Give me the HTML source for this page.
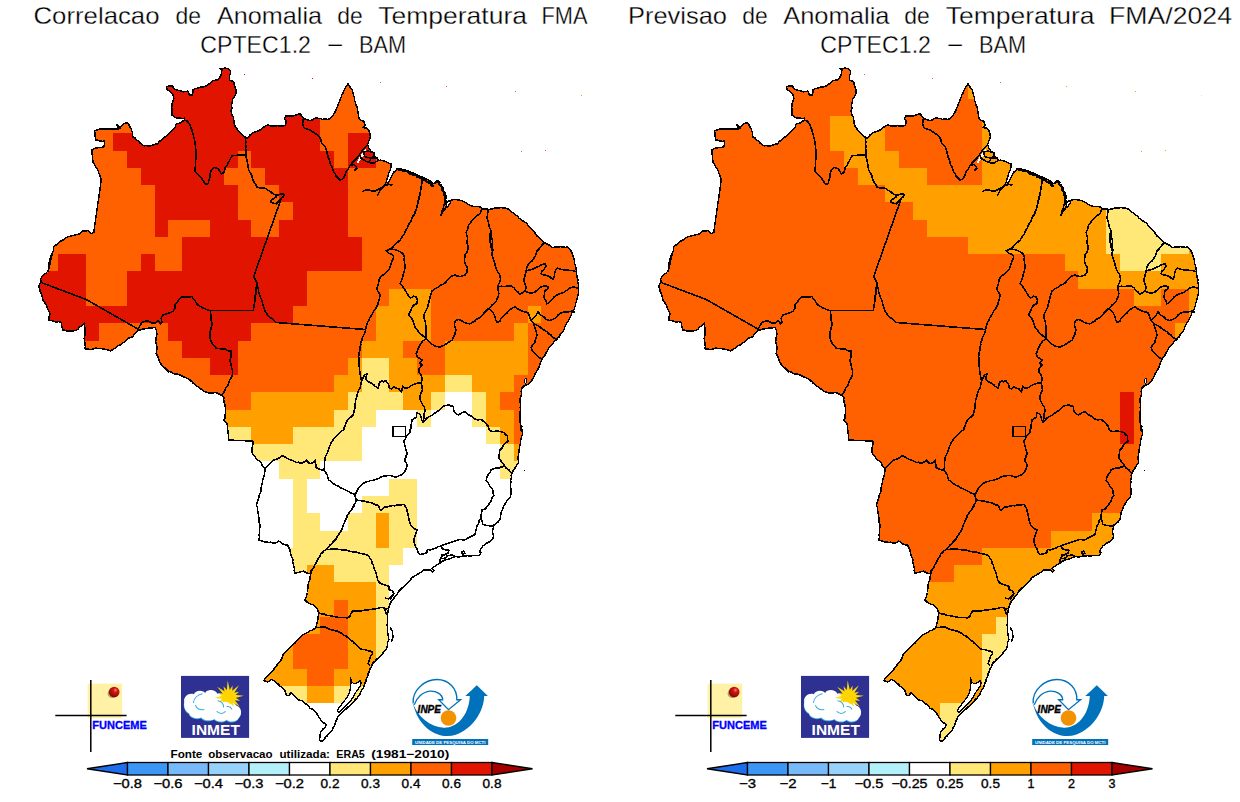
<!DOCTYPE html>
<html><head><meta charset="utf-8"><title>Anomalia de Temperatura FMA</title>
<style>
html,body{margin:0;padding:0;background:#fff;}
body{width:1240px;height:802px;overflow:hidden;position:relative;font-family:"Liberation Sans",sans-serif;}
svg{position:absolute;left:0;top:0;}
text{font-family:"Liberation Sans",sans-serif;}
</style></head><body>
<svg width="1240" height="802" viewBox="0 0 1240 802">
<defs><clipPath id="bz"><path d="M38.8 286.2 39.6 284.1 41.2 282.5 40.5 278.8 42.1 276.8 43.8 275 45.4 273.4 47.5 272.5 48.5 270 49.5 267.5 49.8 265 49.9 262.5 50 260 50.4 257.4 51.3 254.9 52.5 252.5 49.2 267.5 48.8 263.8 49.6 261.6 50.3 259.4 51.5 257.3 51.9 255 52.4 253 53.2 251 53.6 249 53.8 246.9 55.4 245.3 57.4 244.4 59 242.8 60.6 241.2 62.4 240.3 64.2 239.3 65.8 238 67.5 236.9 80 233.8 82.5 230.8 85.3 231 88 230.5 89.5 232.2 91.2 233.8 93.8 232.5 95.5 220 97.5 206.2 99.5 192.5 101.2 179.5 100.5 177.3 99.7 175.1 98.8 173 98.2 170.8 96.9 168.7 95.6 166.6 94.5 164.5 93 162.5 91.8 150 93.9 148.8 96.2 148 98.7 147.6 101.3 147.4 103.8 147 104.5 144.2 104.5 141.2 102.2 141.3 99.9 141.1 97.8 140.1 95.5 140 95.5 137.6 94.8 135.3 95 132.8 94.5 130.5 97.4 130.1 100 129 115 129 118.8 128.8 117.4 126.8 117 124.5 118.5 126.2 120 128 121.6 125.6 123.8 123.8 127.5 122.5 128.8 124.5 129.8 126.8 131.2 128.8 131.4 130.9 132.6 132.8 132.2 135 133 137 135.2 138.1 136.7 140.1 138.8 141.2 140.1 143.1 142.1 144.3 143.8 145.8 146.2 145.7 148.8 145.9 151.2 145.8 153.3 144.9 155.4 144.3 157.5 143.8 159 141.9 160.8 140.4 162.5 138.8 164.9 137 167.5 135.5 169.4 133.4 171.2 131.2 173 129.2 175 127.5 176.2 123.8 180 123 182.2 121.5 184.5 120 184.4 118.1 182.2 118.6 180 118.1 177.5 118.2 175 117.5 171.9 115 172 112.5 171.9 110 171.7 107.9 172 105.8 171.9 103.8 172.8 101.3 173.8 98.8 173.4 96.2 172.5 93.8 171 92.3 169.4 91 167.5 90 166.2 86.9 169.4 86 172.5 86.2 174.4 89.4 176.6 90 178.8 90.6 181 90.9 183.1 91.9 185.6 91.4 188.1 91.2 189.4 95 192.2 95 192.9 92.5 192.8 90 195 88.8 197.5 88.1 199.5 87.4 201.6 86.9 203.8 86.9 205.8 86.2 207.6 85 209.4 83.8 211.3 82.5 212.5 80.6 215 80.2 217.5 80 219.1 78.6 220.2 76.8 221.2 75 221.4 72.8 221.9 70.6 220 68.8 222.3 68.9 224.4 68.1 228.1 68.5 230.6 71.2 230.3 73.8 229.4 76.2 229.4 80 231.8 80.9 233.8 82.5 234.3 84.7 235 86.9 235.7 89.1 236.2 91.2 236 93.5 235 95.6 233.9 97.3 232.5 98.8 232.5 101.3 231.9 103.8 231.4 105.8 232 108 231.2 110 231.3 112.5 231.9 115 233.3 117.3 233.8 120 233.8 122.1 234.4 124.2 235 126.2 236.5 127.7 237.4 129.7 238.8 131.2 240.7 133.1 242.5 135 245.6 137.5 247.5 138.1 250 135 253.1 132.5 255.3 131.9 257.5 131.2 260.2 129.9 262.5 128.1 264.9 126.4 267.5 125 270 125.7 272.5 126.2 275 126 277.5 125.6 280 126.1 282.5 126.2 285.6 125 286.2 121.2 284.4 118.8 286.2 115.6 288.7 116.1 291.2 116.2 293.8 115.9 296.2 115 298.4 114.2 300.6 113.8 301.4 115.7 302.5 117.5 304.2 118.7 306.1 119.4 308 120.1 310 120.5 312.2 119.9 314 118.5 316.2 118 318.4 118.3 320.5 118.6 322.5 119.5 325 118.9 327.5 119.4 330 118.8 331.4 117.2 332.8 115.6 333.8 113.8 335 112 335.9 110.1 336.7 108.2 337.5 106.2 338.4 104 339.5 101.9 340 99.6 341.2 97.5 341.8 95.1 343 93.1 343.9 90.9 345 88.8 346.3 86.1 348 83.8 349.4 85.9 350.7 88.1 352.5 90 352.7 92 353.3 94 353.8 96 354.6 97.9 354.5 100 355.2 102 355.6 104 356.5 105.9 357.2 107.9 357.5 110 357.9 112.2 358.3 114.4 358.7 116.6 359.4 118.8 361.2 120.6 363.8 121.2 365 125 363.1 127.5 366.2 128.1 368.8 130 370 133.8 370.3 135.9 370.2 138.1 368.8 141.2 367.5 145 368.6 146.8 369 148.9 370.6 150.5 371.2 152.5 373.8 152.5 374.4 156.2 377.5 158.1 378.1 160.6 380.3 160.2 382.5 160.6 384.8 161.1 386.9 162.2 389 163.2 391.2 163.5 390.8 165.5 390.9 167.5 389.8 171.2 388.7 173.1 388.4 175.2 387 179 386.2 182.2 388 183.5 389.9 180 391 177.5 392.2 175 394.1 171.9 396.9 169.4 400 168.8 402.5 169.3 405 170 407.5 170.9 410 171.9 412.5 172.7 415 173.8 417.5 175 420 176.2 422.5 177.1 425 178.1 427.4 179.6 430 180.6 431.6 182.5 433.8 183.8 435.5 182.3 437.5 181.2 438.7 182.9 440.2 184.4 441.2 186.2 442.1 188.8 443 191.2 443.8 193.8 444.9 195.5 445.6 197.5 445.4 200 446.9 201.9 448.7 200.9 450.6 200.4 452.8 199.7 455 199.4 457.5 199.8 460 200.2 462.7 201 465 202.5 467 203.2 468.6 204.6 470.4 205.7 472.5 206.2 475 206.8 477.5 206.3 480 207 482.5 208.8 484.6 208.9 486.7 208.8 488.8 209.4 490.9 209.1 493 208.8 495 208.1 497.1 208.2 499.2 208 501.2 207.5 503.3 208.1 505.5 208.1 507.5 208.8 509.3 209.8 510.8 211.3 512.5 212.5 514.2 213.7 515.9 215 517.5 216.2 518.9 218.1 520.8 219.2 522.5 220.6 524.1 221.9 526.1 222.8 527.5 224.4 529.1 226.8 531.2 228.8 533.5 230.6 535 233.1 536.5 235.6 538.8 237.5 540.4 239.3 542.5 240.6 545 243.1 547.6 244.2 550 245.6 552.5 247.5 555 247 557.5 247.2 560 246.7 562.5 246.9 565 247.3 567.5 247.2 570 249.4 571.9 252.5 573.1 256.2 574.1 258.7 574.4 261.2 574.7 263.8 575.6 266.2 576 268.8 576.5 271.2 576.4 273.4 576.8 275.4 577.2 277.5 578 279.5 577.5 281.7 578.1 283.8 578.8 285.8 578.5 287.9 578.8 290 578.5 292.5 578.1 295 577.5 297.5 576.9 299.5 576.5 301.6 575.5 303.5 575.4 305.6 574.5 307.5 574.1 309.5 572.7 311.2 571.7 313 571.2 315 570.3 316.8 569.5 318.6 568.7 320.5 567.6 322.2 566.2 323.8 565.3 325.8 564.6 327.9 563.8 330 562.6 331.8 561.2 333.3 560 335 559.1 336.9 557.5 338.4 556.2 340 554.4 341.3 553.1 343.1 551.9 345 550 346.2 548.1 349.4 546.2 352.5 545.4 354.5 544 356.2 542.7 358 541.9 360 540.5 362 540 364.4 539.1 366.6 538.1 368.8 536.9 370.5 536.2 372.5 534.9 374.2 534.4 376.2 532.5 379.4 530.6 381.9 528.1 384.4 526 385 523.8 386.2 521.9 388.1 521.2 391.2 521.5 395 520.2 398.1 520 401.2 520.6 405 520.2 407.5 520.4 410 519.9 412.5 519.8 415 520 417.5 519.8 419.6 519.9 421.7 520.4 423.8 520.3 425.8 520.4 427.9 520.6 430 521.8 426.2 521.6 428.4 521.9 430.5 522.5 432.5 522.3 434.6 521.4 436.6 521.2 438.8 520.4 440.7 520.6 443 520 445 519.6 447.5 518.9 450 518.8 452.5 518.7 454.6 518 456.6 518.1 458.8 518.5 462.5 516.9 465 515 468.1 513.1 470.6 512.3 472.9 511.2 475 511.4 477.6 510.6 480 510.9 482.5 510.4 485 510.7 487.5 511 490 511.2 493.8 510 497.5 507.5 500 505.6 503.1 503.8 506.2 502.5 509.4 501.2 512.5 500.6 516.2 499.8 520 497.5 522.5 495.7 523.9 493.8 525 493.7 527.6 492.7 530 492.5 532.5 493.5 535 493.1 538.8 490 541.2 488.3 542.6 486.2 543.1 484.9 544.7 483.1 545.6 482.1 547.4 480.6 548.8 479.4 551.9 481.2 552.5 479.4 555.6 476.2 555.6 472.5 555.6 470 556.1 467.5 555.6 465 556 462.5 556.2 458.8 556.9 455 556.5 451.9 557.8 450 558.6 448.1 559.4 445 560 442.5 561.2 440 563.1 436.9 565 433.8 566.9 431.9 568.8 433.8 570.6 432.5 571.9 430 570 426.9 569.8 423.8 570.2 420.6 572.5 417.5 574.4 414.4 576.2 412.6 577.2 411.2 578.8 409.4 581.2 406.9 583.8 404.4 586.2 402.7 587.4 401.2 588.8 398.8 591.2 396.9 594.4 394.4 597.5 391.9 600.6 390 603.8 388.8 607.5 388.1 611.2 387.5 615 387.5 618 387.7 620.4 387.6 622.8 387 625.1 387.5 627.5 387.4 630 387.7 632.5 388 635 388.7 637.4 388.8 640 387.7 642.4 387.5 645 387 647.7 385.6 650 383.9 651.7 382.5 653.8 380.9 655.9 378.8 657.5 376.7 659.2 375 661.2 373.1 662.8 371.9 665 371.3 667.1 370 668.8 369.3 671.4 368.1 673.8 367.6 676.4 366.2 678.8 366.1 681.1 365 683.1 363.8 686.9 362.5 689.1 361.2 691.2 360.3 693.6 358.8 695.6 357.1 698 355 700 353.8 702.2 351.9 703.8 350.2 705.5 348.1 706.9 346.4 708.7 344.4 710 342.7 711.4 341.2 713.1 338.8 715.6 337.6 717.4 336.9 719.4 335.7 721.5 335 723.8 334.5 725.8 333.1 727.5 332.3 729.9 330.6 731.9 328.9 733.6 327.5 735.6 325.7 737 324.4 738.8 322.5 740.8 321 741.5 319.8 740.8 319.6 738.5 320 736.2 320.2 734 320.6 731.9 322.1 730.5 323.1 728.8 324.9 727.4 326.2 725.6 325.6 723.8 323.4 722.6 321.2 721.2 320.4 719.1 318.8 717.5 318 715.5 316.9 713.8 315.6 711.9 313.8 710.6 312.1 709.1 310 708.1 307.5 705 305.4 703.7 303.8 701.9 301.4 700.5 298.8 700 296.5 698.5 295 696.2 293.1 694.4 291.2 692.5 288.8 695.6 286.2 695 285.7 692.4 284.4 690 282.4 687.9 280 686.2 278.5 684.4 276.7 682.8 275 681.2 273.1 680.3 271.2 679.4 269.6 680.9 267.5 681.9 263.8 680.6 265.6 677.5 267 676.1 268.8 675 270.6 673.3 271.9 671.2 273.7 669.6 275 667.5 277.5 664.4 278.9 662.9 280 661.2 281.6 659.3 282.5 656.9 283.3 654.5 285 652.5 287.5 650 290 647.5 291.7 646 293.1 644.4 294.9 643.1 296.2 641.2 297.5 640 299.1 638.3 300.7 636.5 302.5 635 304.9 633.6 307.5 632.5 309.8 630.9 312.5 630 314.4 628.8 316.2 627.5 316.3 625.4 316.8 623.3 317.5 621.2 318.2 618.8 318.1 616.2 318.8 613.8 318.1 611.3 317.5 608.8 315.7 606.8 313.8 605 311.6 604.4 309.5 603.5 307.5 602.5 305 600 306 597.6 306.8 595.1 307.5 592.5 307.7 590 308 587.5 308 585 308.7 582.5 309.7 580.1 310 577.5 310.7 575 311 572.5 311.2 570 311.2 572.5 308.8 573.8 306.2 572.7 303.8 571.2 301.1 571.4 298.8 572.5 295 573 294.2 570.8 294.5 568.4 293.8 566.2 293.4 564.1 292.7 561.9 292.9 559.6 292 557.5 291.1 555.1 290.4 552.6 290 550 288.7 547.5 287.5 545 284.9 544.8 282.5 543.8 280.8 542.3 278.8 541.2 277.1 542.5 275 543 272.9 543.2 270.9 542.2 268.8 542.5 266.8 541.7 264.5 542.1 262.5 541.2 258.8 540 259.5 537.5 259 535 259.5 532.5 259.2 530 259.8 527.5 260 525 259.2 522.6 259.2 520 258.8 517.5 258.6 515 258 512.5 257.5 510 257.3 507.4 256.2 505 257.2 502.5 257.9 500 258.8 497.5 259.3 494.9 260.5 492.5 261.2 490 261.2 487.4 261.7 484.9 262.5 482.5 262.7 479.9 263.4 477.4 264.5 475 264.5 472.9 265 470.8 265 468.8 262.5 466.2 261.6 463.6 260 461.2 258 460.2 256.2 458.8 255.1 457 253.9 455.3 252.5 453.8 252 451.7 252.1 449.6 252 447.5 252.6 445.5 253.1 443.4 253 441.2 240 440.5 228.8 440 228.7 437.5 228.4 435 228 432.5 227.7 430 227.6 427.5 227.5 425 226.5 423.2 225.1 421.6 223.8 420 225 418 225.1 415.2 225.5 412.5 225.5 410 225.4 407.5 225 405 224.2 402.6 223.7 400.1 223.8 397.5 222.1 395.7 220 394.5 217.6 393.3 215 392.5 212.9 392.9 210.8 392.9 208.8 393 206.2 392.2 203.8 391.2 202.2 389.9 200.5 388.7 198.8 387.5 197.1 386.2 195.5 384.9 193.8 383.8 191.9 381.8 190 380 187.6 378.5 185 377.5 182.5 376.3 180 375 178 374.4 175.9 373.9 173.8 373.8 171.5 372.1 168.8 371.2 167.1 369.2 165 367.5 166.7 369.8 168.8 371.9 167.2 370 165 368.8 163.3 367 161.9 365 160.3 363.3 159.4 361.2 158.1 357.5 157.4 355.5 156.2 353.8 156.7 351.3 156.9 348.8 156.8 346.2 156.2 343.8 155.7 341.3 156 338.8 156.4 336.2 156.9 333.8 156.2 330 155 327.5 152.5 327.8 150 328.1 147.9 328.3 145.8 328.7 143.8 328.8 141.3 329.7 138.8 330 136.9 331.9 135 333.8 133.7 335.3 132.5 336.9 128.8 338.1 126.7 339.9 125 341.9 122.3 343.2 120 345 117.7 345.9 115.9 347.6 113.8 348.8 112.1 349.9 110.5 351.2 108.8 350 106.7 349.6 104.6 349.3 102.5 348.8 100.4 348.4 98.3 348.7 96.2 348 94.2 348.5 92.2 349.3 90 349.5 87.5 348.9 85 348.8 85.3 346.2 85 343.7 84.5 341.2 84.2 339 84.5 336.9 85.3 334.7 85 332.5 85.1 330.5 85.2 328.5 84.7 326.5 84.1 324.5 84.5 322.5 82.9 324.4 81.2 326.2 79.3 327.3 78 329.2 76.2 330.5 74.1 330.8 71.9 331.3 69.7 330.8 67.5 331.2 65.1 330.2 62.5 330 62.3 327.5 61.4 325.1 61.2 322.5 58.8 321.7 56.2 322.1 53.8 321.2 51.3 320.5 48.8 320 48.8 317.8 49.6 315.8 50 313.8 48.8 311.2 47.5 308.8 46.9 306.1 45.5 303.8 44.3 301.9 43 300 42 296.2 41.4 293.6 40 291.2 39.7 288.7Z"/></clipPath></defs>
<rect width="1240" height="802" fill="#fff"/>
<g transform="translate(0,0)" shape-rendering="crispEdges">
<g clip-path="url(#bz)">
<rect x="30" y="64" width="553" height="17" fill="#e11400"/>
<rect x="30" y="81" width="290" height="35" fill="#e11400"/>
<rect x="320" y="81" width="263" height="52" fill="#ff6000"/>
<rect x="141" y="116" width="179" height="17" fill="#e11400"/>
<rect x="30" y="116" width="111" height="17" fill="#ff6000"/>
<rect x="30" y="133" width="83" height="18" fill="#ff6000"/>
<rect x="113" y="133" width="207" height="18" fill="#e11400"/>
<rect x="320" y="133" width="28" height="18" fill="#ff6000"/>
<rect x="376" y="133" width="207" height="35" fill="#ff6000"/>
<rect x="348" y="133" width="28" height="35" fill="#e11400"/>
<rect x="334" y="151" width="14" height="17" fill="#ff6000"/>
<rect x="251" y="151" width="83" height="17" fill="#e11400"/>
<rect x="127" y="151" width="111" height="17" fill="#e11400"/>
<rect x="30" y="151" width="97" height="17" fill="#ff6000"/>
<rect x="238" y="151" width="13" height="17" fill="#ff6000"/>
<rect x="224" y="168" width="41" height="17" fill="#ff6000"/>
<rect x="30" y="168" width="111" height="17" fill="#ff6000"/>
<rect x="265" y="168" width="83" height="17" fill="#e11400"/>
<rect x="141" y="168" width="83" height="17" fill="#e11400"/>
<rect x="238" y="185" width="41" height="17" fill="#ff6000"/>
<rect x="279" y="185" width="69" height="17" fill="#e11400"/>
<rect x="155" y="185" width="83" height="35" fill="#e11400"/>
<rect x="293" y="202" width="55" height="18" fill="#e11400"/>
<rect x="238" y="202" width="55" height="18" fill="#ff6000"/>
<rect x="348" y="168" width="235" height="69" fill="#ff6000"/>
<rect x="30" y="185" width="125" height="52" fill="#ff6000"/>
<rect x="155" y="220" width="13" height="17" fill="#e11400"/>
<rect x="168" y="220" width="42" height="17" fill="#ff6000"/>
<rect x="251" y="220" width="28" height="17" fill="#ff6000"/>
<rect x="210" y="220" width="41" height="17" fill="#e11400"/>
<rect x="279" y="220" width="69" height="17" fill="#e11400"/>
<rect x="30" y="237" width="152" height="17" fill="#ff6000"/>
<rect x="362" y="237" width="221" height="34" fill="#ff6000"/>
<rect x="182" y="237" width="180" height="34" fill="#e11400"/>
<rect x="58" y="254" width="28" height="17" fill="#e11400"/>
<rect x="86" y="254" width="55" height="17" fill="#ff6000"/>
<rect x="155" y="254" width="27" height="17" fill="#ff6000"/>
<rect x="30" y="254" width="28" height="17" fill="#ff6000"/>
<rect x="141" y="254" width="14" height="17" fill="#e11400"/>
<rect x="307" y="271" width="276" height="18" fill="#ff6000"/>
<rect x="30" y="271" width="56" height="35" fill="#e11400"/>
<rect x="127" y="271" width="180" height="35" fill="#e11400"/>
<rect x="86" y="271" width="41" height="35" fill="#ff6000"/>
<rect x="307" y="289" width="82" height="17" fill="#ff6000"/>
<rect x="431" y="289" width="152" height="17" fill="#ff6000"/>
<rect x="389" y="289" width="42" height="17" fill="#ffa000"/>
<rect x="30" y="306" width="263" height="17" fill="#e11400"/>
<rect x="528" y="306" width="13" height="17" fill="#ffa000"/>
<rect x="541" y="306" width="42" height="17" fill="#ff6000"/>
<rect x="431" y="306" width="97" height="17" fill="#ff6000"/>
<rect x="293" y="306" width="83" height="17" fill="#ff6000"/>
<rect x="376" y="306" width="55" height="35" fill="#ffa000"/>
<rect x="251" y="323" width="125" height="18" fill="#ff6000"/>
<rect x="431" y="323" width="83" height="18" fill="#ff6000"/>
<rect x="99" y="323" width="69" height="18" fill="#ff6000"/>
<rect x="514" y="323" width="14" height="18" fill="#ffa000"/>
<rect x="168" y="323" width="83" height="18" fill="#e11400"/>
<rect x="30" y="323" width="69" height="18" fill="#e11400"/>
<rect x="30" y="341" width="152" height="17" fill="#ff6000"/>
<rect x="182" y="341" width="56" height="17" fill="#e11400"/>
<rect x="238" y="341" width="124" height="17" fill="#ff6000"/>
<rect x="403" y="341" width="42" height="17" fill="#ff6000"/>
<rect x="362" y="341" width="41" height="17" fill="#ffa000"/>
<rect x="528" y="323" width="55" height="52" fill="#ff6000"/>
<rect x="445" y="341" width="83" height="34" fill="#ffa000"/>
<rect x="210" y="358" width="28" height="17" fill="#e11400"/>
<rect x="348" y="358" width="14" height="17" fill="#ffa000"/>
<rect x="389" y="358" width="28" height="17" fill="#ffa000"/>
<rect x="417" y="358" width="28" height="17" fill="#ff6000"/>
<rect x="238" y="358" width="110" height="17" fill="#ff6000"/>
<rect x="30" y="358" width="180" height="17" fill="#ff6000"/>
<rect x="362" y="358" width="27" height="34" fill="#ffe878"/>
<rect x="472" y="375" width="42" height="17" fill="#ffa000"/>
<rect x="389" y="375" width="56" height="17" fill="#ffa000"/>
<rect x="514" y="375" width="69" height="17" fill="#ff6000"/>
<rect x="445" y="375" width="27" height="17" fill="#ffe878"/>
<rect x="30" y="375" width="304" height="17" fill="#ff6000"/>
<rect x="334" y="375" width="28" height="17" fill="#ffa000"/>
<rect x="30" y="392" width="221" height="18" fill="#ff6000"/>
<rect x="348" y="392" width="55" height="18" fill="#ffe878"/>
<rect x="431" y="392" width="14" height="18" fill="#ffe878"/>
<rect x="251" y="392" width="97" height="18" fill="#ffa000"/>
<rect x="403" y="392" width="28" height="18" fill="#ffa000"/>
<rect x="486" y="392" width="14" height="18" fill="#ffa000"/>
<rect x="500" y="392" width="83" height="18" fill="#ff6000"/>
<rect x="472" y="392" width="14" height="35" fill="#ffe878"/>
<rect x="486" y="410" width="28" height="17" fill="#ffa000"/>
<rect x="417" y="410" width="14" height="17" fill="#ffe878"/>
<rect x="30" y="410" width="304" height="17" fill="#ffa000"/>
<rect x="334" y="410" width="42" height="17" fill="#ffe878"/>
<rect x="514" y="410" width="69" height="34" fill="#ff6000"/>
<rect x="500" y="427" width="14" height="17" fill="#ffa000"/>
<rect x="30" y="427" width="221" height="17" fill="#ffe878"/>
<rect x="486" y="427" width="14" height="17" fill="#ffe878"/>
<rect x="251" y="427" width="42" height="17" fill="#ffa000"/>
<rect x="293" y="427" width="69" height="17" fill="#ffe878"/>
<rect x="500" y="444" width="14" height="17" fill="#ffe878"/>
<rect x="30" y="444" width="332" height="17" fill="#ffe878"/>
<rect x="514" y="444" width="69" height="17" fill="#ffa000"/>
<rect x="279" y="461" width="41" height="18" fill="#ffe878"/>
<rect x="500" y="461" width="83" height="18" fill="#ffe878"/>
<rect x="389" y="479" width="28" height="17" fill="#ffe878"/>
<rect x="293" y="479" width="14" height="34" fill="#ffe878"/>
<rect x="362" y="496" width="55" height="17" fill="#ffe878"/>
<rect x="348" y="513" width="28" height="18" fill="#ffe878"/>
<rect x="293" y="513" width="27" height="18" fill="#ffe878"/>
<rect x="389" y="513" width="28" height="35" fill="#ffe878"/>
<rect x="376" y="513" width="13" height="35" fill="#ffa000"/>
<rect x="293" y="531" width="83" height="17" fill="#ffe878"/>
<rect x="30" y="548" width="373" height="17" fill="#ffe878"/>
<rect x="334" y="565" width="55" height="17" fill="#ffe878"/>
<rect x="307" y="565" width="27" height="17" fill="#ffa000"/>
<rect x="30" y="565" width="277" height="17" fill="#ffe878"/>
<rect x="30" y="582" width="346" height="18" fill="#ffa000"/>
<rect x="334" y="600" width="14" height="17" fill="#ff6000"/>
<rect x="30" y="600" width="304" height="17" fill="#ffa000"/>
<rect x="30" y="617" width="290" height="17" fill="#ffa000"/>
<rect x="320" y="617" width="28" height="17" fill="#ff6000"/>
<rect x="376" y="582" width="13" height="87" fill="#ffe878"/>
<rect x="348" y="600" width="28" height="69" fill="#ffa000"/>
<rect x="30" y="634" width="263" height="35" fill="#ffa000"/>
<rect x="293" y="634" width="55" height="35" fill="#ff6000"/>
<rect x="307" y="669" width="27" height="17" fill="#ff6000"/>
<rect x="30" y="669" width="277" height="17" fill="#ffa000"/>
<rect x="334" y="669" width="42" height="17" fill="#ffa000"/>
<rect x="307" y="686" width="27" height="17" fill="#ffa000"/>
<rect x="279" y="686" width="28" height="17" fill="#ffe878"/>
<rect x="334" y="686" width="28" height="17" fill="#ffe878"/>
</g>
<path d="M350.6 677.5 351.2 681.2 353.1 683.1 355 683.8 357.5 682.5 360 680.6 361.2 683.1 360 686.2 358.1 689.4 355.6 692.5 353.8 696.2 351.2 700 348.1 703.1 345 706.2 341.9 709.4 338.8 712.5 337.5 711.2 338.1 708.8 340.6 706.2 342.5 703.1 345 700 347.5 696.9 348.8 693.8 350 690 350.6 686.2 351 682.5 350.6 677.5Z M445.9 208.1 446.5 203.1 448.8 201 451 200.6 449.8 203.8 447.8 206.5 445.9 208.1Z M364 150 366.5 148.1 365.5 152.5 363 156.5 360.5 160.2 358 163.5 356.5 162.2 359 158.2 361.5 154.5Z" fill="#fff" stroke="none"/>
<path d="M38.8 286.2 39.6 284.1 41.2 282.5 40.5 278.8 42.1 276.8 43.8 275 45.4 273.4 47.5 272.5 48.5 270 49.5 267.5 49.8 265 49.9 262.5 50 260 50.4 257.4 51.3 254.9 52.5 252.5 49.2 267.5 48.8 263.8 49.6 261.6 50.3 259.4 51.5 257.3 51.9 255 52.4 253 53.2 251 53.6 249 53.8 246.9 55.4 245.3 57.4 244.4 59 242.8 60.6 241.2 62.4 240.3 64.2 239.3 65.8 238 67.5 236.9 80 233.8 82.5 230.8 85.3 231 88 230.5 89.5 232.2 91.2 233.8 93.8 232.5 95.5 220 97.5 206.2 99.5 192.5 101.2 179.5 100.5 177.3 99.7 175.1 98.8 173 98.2 170.8 96.9 168.7 95.6 166.6 94.5 164.5 93 162.5 91.8 150 93.9 148.8 96.2 148 98.7 147.6 101.3 147.4 103.8 147 104.5 144.2 104.5 141.2 102.2 141.3 99.9 141.1 97.8 140.1 95.5 140 95.5 137.6 94.8 135.3 95 132.8 94.5 130.5 97.4 130.1 100 129 115 129 118.8 128.8 117.4 126.8 117 124.5 118.5 126.2 120 128 121.6 125.6 123.8 123.8 127.5 122.5 128.8 124.5 129.8 126.8 131.2 128.8 131.4 130.9 132.6 132.8 132.2 135 133 137 135.2 138.1 136.7 140.1 138.8 141.2 140.1 143.1 142.1 144.3 143.8 145.8 146.2 145.7 148.8 145.9 151.2 145.8 153.3 144.9 155.4 144.3 157.5 143.8 159 141.9 160.8 140.4 162.5 138.8 164.9 137 167.5 135.5 169.4 133.4 171.2 131.2 173 129.2 175 127.5 176.2 123.8 180 123 182.2 121.5 184.5 120 184.4 118.1 182.2 118.6 180 118.1 177.5 118.2 175 117.5 171.9 115 172 112.5 171.9 110 171.7 107.9 172 105.8 171.9 103.8 172.8 101.3 173.8 98.8 173.4 96.2 172.5 93.8 171 92.3 169.4 91 167.5 90 166.2 86.9 169.4 86 172.5 86.2 174.4 89.4 176.6 90 178.8 90.6 181 90.9 183.1 91.9 185.6 91.4 188.1 91.2 189.4 95 192.2 95 192.9 92.5 192.8 90 195 88.8 197.5 88.1 199.5 87.4 201.6 86.9 203.8 86.9 205.8 86.2 207.6 85 209.4 83.8 211.3 82.5 212.5 80.6 215 80.2 217.5 80 219.1 78.6 220.2 76.8 221.2 75 221.4 72.8 221.9 70.6 220 68.8 222.3 68.9 224.4 68.1 228.1 68.5 230.6 71.2 230.3 73.8 229.4 76.2 229.4 80 231.8 80.9 233.8 82.5 234.3 84.7 235 86.9 235.7 89.1 236.2 91.2 236 93.5 235 95.6 233.9 97.3 232.5 98.8 232.5 101.3 231.9 103.8 231.4 105.8 232 108 231.2 110 231.3 112.5 231.9 115 233.3 117.3 233.8 120 233.8 122.1 234.4 124.2 235 126.2 236.5 127.7 237.4 129.7 238.8 131.2 240.7 133.1 242.5 135 245.6 137.5 247.5 138.1 250 135 253.1 132.5 255.3 131.9 257.5 131.2 260.2 129.9 262.5 128.1 264.9 126.4 267.5 125 270 125.7 272.5 126.2 275 126 277.5 125.6 280 126.1 282.5 126.2 285.6 125 286.2 121.2 284.4 118.8 286.2 115.6 288.7 116.1 291.2 116.2 293.8 115.9 296.2 115 298.4 114.2 300.6 113.8 301.4 115.7 302.5 117.5 304.2 118.7 306.1 119.4 308 120.1 310 120.5 312.2 119.9 314 118.5 316.2 118 318.4 118.3 320.5 118.6 322.5 119.5 325 118.9 327.5 119.4 330 118.8 331.4 117.2 332.8 115.6 333.8 113.8 335 112 335.9 110.1 336.7 108.2 337.5 106.2 338.4 104 339.5 101.9 340 99.6 341.2 97.5 341.8 95.1 343 93.1 343.9 90.9 345 88.8 346.3 86.1 348 83.8 349.4 85.9 350.7 88.1 352.5 90 352.7 92 353.3 94 353.8 96 354.6 97.9 354.5 100 355.2 102 355.6 104 356.5 105.9 357.2 107.9 357.5 110 357.9 112.2 358.3 114.4 358.7 116.6 359.4 118.8 361.2 120.6 363.8 121.2 365 125 363.1 127.5 366.2 128.1 368.8 130 370 133.8 370.3 135.9 370.2 138.1 368.8 141.2 367.5 145 368.6 146.8 369 148.9 370.6 150.5 371.2 152.5 373.8 152.5 374.4 156.2 377.5 158.1 378.1 160.6 380.3 160.2 382.5 160.6 384.8 161.1 386.9 162.2 389 163.2 391.2 163.5 390.8 165.5 390.9 167.5 389.8 171.2 388.7 173.1 388.4 175.2 387 179 386.2 182.2 388 183.5 389.9 180 391 177.5 392.2 175 394.1 171.9 396.9 169.4 400 168.8 402.5 169.3 405 170 407.5 170.9 410 171.9 412.5 172.7 415 173.8 417.5 175 420 176.2 422.5 177.1 425 178.1 427.4 179.6 430 180.6 431.6 182.5 433.8 183.8 435.5 182.3 437.5 181.2 438.7 182.9 440.2 184.4 441.2 186.2 442.1 188.8 443 191.2 443.8 193.8 444.9 195.5 445.6 197.5 445.4 200 446.9 201.9 448.7 200.9 450.6 200.4 452.8 199.7 455 199.4 457.5 199.8 460 200.2 462.7 201 465 202.5 467 203.2 468.6 204.6 470.4 205.7 472.5 206.2 475 206.8 477.5 206.3 480 207 482.5 208.8 484.6 208.9 486.7 208.8 488.8 209.4 490.9 209.1 493 208.8 495 208.1 497.1 208.2 499.2 208 501.2 207.5 503.3 208.1 505.5 208.1 507.5 208.8 509.3 209.8 510.8 211.3 512.5 212.5 514.2 213.7 515.9 215 517.5 216.2 518.9 218.1 520.8 219.2 522.5 220.6 524.1 221.9 526.1 222.8 527.5 224.4 529.1 226.8 531.2 228.8 533.5 230.6 535 233.1 536.5 235.6 538.8 237.5 540.4 239.3 542.5 240.6 545 243.1 547.6 244.2 550 245.6 552.5 247.5 555 247 557.5 247.2 560 246.7 562.5 246.9 565 247.3 567.5 247.2 570 249.4 571.9 252.5 573.1 256.2 574.1 258.7 574.4 261.2 574.7 263.8 575.6 266.2 576 268.8 576.5 271.2 576.4 273.4 576.8 275.4 577.2 277.5 578 279.5 577.5 281.7 578.1 283.8 578.8 285.8 578.5 287.9 578.8 290 578.5 292.5 578.1 295 577.5 297.5 576.9 299.5 576.5 301.6 575.5 303.5 575.4 305.6 574.5 307.5 574.1 309.5 572.7 311.2 571.7 313 571.2 315 570.3 316.8 569.5 318.6 568.7 320.5 567.6 322.2 566.2 323.8 565.3 325.8 564.6 327.9 563.8 330 562.6 331.8 561.2 333.3 560 335 559.1 336.9 557.5 338.4 556.2 340 554.4 341.3 553.1 343.1 551.9 345 550 346.2 548.1 349.4 546.2 352.5 545.4 354.5 544 356.2 542.7 358 541.9 360 540.5 362 540 364.4 539.1 366.6 538.1 368.8 536.9 370.5 536.2 372.5 534.9 374.2 534.4 376.2 532.5 379.4 530.6 381.9 528.1 384.4 526 385 523.8 386.2 521.9 388.1 521.2 391.2 521.5 395 520.2 398.1 520 401.2 520.6 405 520.2 407.5 520.4 410 519.9 412.5 519.8 415 520 417.5 519.8 419.6 519.9 421.7 520.4 423.8 520.3 425.8 520.4 427.9 520.6 430 521.8 426.2 521.6 428.4 521.9 430.5 522.5 432.5 522.3 434.6 521.4 436.6 521.2 438.8 520.4 440.7 520.6 443 520 445 519.6 447.5 518.9 450 518.8 452.5 518.7 454.6 518 456.6 518.1 458.8 518.5 462.5 516.9 465 515 468.1 513.1 470.6 512.3 472.9 511.2 475 511.4 477.6 510.6 480 510.9 482.5 510.4 485 510.7 487.5 511 490 511.2 493.8 510 497.5 507.5 500 505.6 503.1 503.8 506.2 502.5 509.4 501.2 512.5 500.6 516.2 499.8 520 497.5 522.5 495.7 523.9 493.8 525 493.7 527.6 492.7 530 492.5 532.5 493.5 535 493.1 538.8 490 541.2 488.3 542.6 486.2 543.1 484.9 544.7 483.1 545.6 482.1 547.4 480.6 548.8 479.4 551.9 481.2 552.5 479.4 555.6 476.2 555.6 472.5 555.6 470 556.1 467.5 555.6 465 556 462.5 556.2 458.8 556.9 455 556.5 451.9 557.8 450 558.6 448.1 559.4 445 560 442.5 561.2 440 563.1 436.9 565 433.8 566.9 431.9 568.8 433.8 570.6 432.5 571.9 430 570 426.9 569.8 423.8 570.2 420.6 572.5 417.5 574.4 414.4 576.2 412.6 577.2 411.2 578.8 409.4 581.2 406.9 583.8 404.4 586.2 402.7 587.4 401.2 588.8 398.8 591.2 396.9 594.4 394.4 597.5 391.9 600.6 390 603.8 388.8 607.5 388.1 611.2 387.5 615 387.5 618 387.7 620.4 387.6 622.8 387 625.1 387.5 627.5 387.4 630 387.7 632.5 388 635 388.7 637.4 388.8 640 387.7 642.4 387.5 645 387 647.7 385.6 650 383.9 651.7 382.5 653.8 380.9 655.9 378.8 657.5 376.7 659.2 375 661.2 373.1 662.8 371.9 665 371.3 667.1 370 668.8 369.3 671.4 368.1 673.8 367.6 676.4 366.2 678.8 366.1 681.1 365 683.1 363.8 686.9 362.5 689.1 361.2 691.2 360.3 693.6 358.8 695.6 357.1 698 355 700 353.8 702.2 351.9 703.8 350.2 705.5 348.1 706.9 346.4 708.7 344.4 710 342.7 711.4 341.2 713.1 338.8 715.6 337.6 717.4 336.9 719.4 335.7 721.5 335 723.8 334.5 725.8 333.1 727.5 332.3 729.9 330.6 731.9 328.9 733.6 327.5 735.6 325.7 737 324.4 738.8 322.5 740.8 321 741.5 319.8 740.8 319.6 738.5 320 736.2 320.2 734 320.6 731.9 322.1 730.5 323.1 728.8 324.9 727.4 326.2 725.6 325.6 723.8 323.4 722.6 321.2 721.2 320.4 719.1 318.8 717.5 318 715.5 316.9 713.8 315.6 711.9 313.8 710.6 312.1 709.1 310 708.1 307.5 705 305.4 703.7 303.8 701.9 301.4 700.5 298.8 700 296.5 698.5 295 696.2 293.1 694.4 291.2 692.5 288.8 695.6 286.2 695 285.7 692.4 284.4 690 282.4 687.9 280 686.2 278.5 684.4 276.7 682.8 275 681.2 273.1 680.3 271.2 679.4 269.6 680.9 267.5 681.9 263.8 680.6 265.6 677.5 267 676.1 268.8 675 270.6 673.3 271.9 671.2 273.7 669.6 275 667.5 277.5 664.4 278.9 662.9 280 661.2 281.6 659.3 282.5 656.9 283.3 654.5 285 652.5 287.5 650 290 647.5 291.7 646 293.1 644.4 294.9 643.1 296.2 641.2 297.5 640 299.1 638.3 300.7 636.5 302.5 635 304.9 633.6 307.5 632.5 309.8 630.9 312.5 630 314.4 628.8 316.2 627.5 316.3 625.4 316.8 623.3 317.5 621.2 318.2 618.8 318.1 616.2 318.8 613.8 318.1 611.3 317.5 608.8 315.7 606.8 313.8 605 311.6 604.4 309.5 603.5 307.5 602.5 305 600 306 597.6 306.8 595.1 307.5 592.5 307.7 590 308 587.5 308 585 308.7 582.5 309.7 580.1 310 577.5 310.7 575 311 572.5 311.2 570 311.2 572.5 308.8 573.8 306.2 572.7 303.8 571.2 301.1 571.4 298.8 572.5 295 573 294.2 570.8 294.5 568.4 293.8 566.2 293.4 564.1 292.7 561.9 292.9 559.6 292 557.5 291.1 555.1 290.4 552.6 290 550 288.7 547.5 287.5 545 284.9 544.8 282.5 543.8 280.8 542.3 278.8 541.2 277.1 542.5 275 543 272.9 543.2 270.9 542.2 268.8 542.5 266.8 541.7 264.5 542.1 262.5 541.2 258.8 540 259.5 537.5 259 535 259.5 532.5 259.2 530 259.8 527.5 260 525 259.2 522.6 259.2 520 258.8 517.5 258.6 515 258 512.5 257.5 510 257.3 507.4 256.2 505 257.2 502.5 257.9 500 258.8 497.5 259.3 494.9 260.5 492.5 261.2 490 261.2 487.4 261.7 484.9 262.5 482.5 262.7 479.9 263.4 477.4 264.5 475 264.5 472.9 265 470.8 265 468.8 262.5 466.2 261.6 463.6 260 461.2 258 460.2 256.2 458.8 255.1 457 253.9 455.3 252.5 453.8 252 451.7 252.1 449.6 252 447.5 252.6 445.5 253.1 443.4 253 441.2 240 440.5 228.8 440 228.7 437.5 228.4 435 228 432.5 227.7 430 227.6 427.5 227.5 425 226.5 423.2 225.1 421.6 223.8 420 225 418 225.1 415.2 225.5 412.5 225.5 410 225.4 407.5 225 405 224.2 402.6 223.7 400.1 223.8 397.5 222.1 395.7 220 394.5 217.6 393.3 215 392.5 212.9 392.9 210.8 392.9 208.8 393 206.2 392.2 203.8 391.2 202.2 389.9 200.5 388.7 198.8 387.5 197.1 386.2 195.5 384.9 193.8 383.8 191.9 381.8 190 380 187.6 378.5 185 377.5 182.5 376.3 180 375 178 374.4 175.9 373.9 173.8 373.8 171.5 372.1 168.8 371.2 167.1 369.2 165 367.5 166.7 369.8 168.8 371.9 167.2 370 165 368.8 163.3 367 161.9 365 160.3 363.3 159.4 361.2 158.1 357.5 157.4 355.5 156.2 353.8 156.7 351.3 156.9 348.8 156.8 346.2 156.2 343.8 155.7 341.3 156 338.8 156.4 336.2 156.9 333.8 156.2 330 155 327.5 152.5 327.8 150 328.1 147.9 328.3 145.8 328.7 143.8 328.8 141.3 329.7 138.8 330 136.9 331.9 135 333.8 133.7 335.3 132.5 336.9 128.8 338.1 126.7 339.9 125 341.9 122.3 343.2 120 345 117.7 345.9 115.9 347.6 113.8 348.8 112.1 349.9 110.5 351.2 108.8 350 106.7 349.6 104.6 349.3 102.5 348.8 100.4 348.4 98.3 348.7 96.2 348 94.2 348.5 92.2 349.3 90 349.5 87.5 348.9 85 348.8 85.3 346.2 85 343.7 84.5 341.2 84.2 339 84.5 336.9 85.3 334.7 85 332.5 85.1 330.5 85.2 328.5 84.7 326.5 84.1 324.5 84.5 322.5 82.9 324.4 81.2 326.2 79.3 327.3 78 329.2 76.2 330.5 74.1 330.8 71.9 331.3 69.7 330.8 67.5 331.2 65.1 330.2 62.5 330 62.3 327.5 61.4 325.1 61.2 322.5 58.8 321.7 56.2 322.1 53.8 321.2 51.3 320.5 48.8 320 48.8 317.8 49.6 315.8 50 313.8 48.8 311.2 47.5 308.8 46.9 306.1 45.5 303.8 44.3 301.9 43 300 42 296.2 41.4 293.6 40 291.2 39.7 288.7Z" fill="none" stroke="#000" stroke-width="1.5" stroke-linejoin="round"/>
<path d="M41.2 282.5 86.2 299.5 138.8 329.5 M138.1 329 140 325.6 141.9 322.5 145 321.2 148.8 321.2 151.9 323.1 155 323.1 158.1 320.6 159.4 322.2 160.6 323.8 161.9 322.5 161.2 318.8 161.8 316.7 163.1 315 166.2 313.8 169.4 313.1 171.3 312.3 173.1 311.2 175 308.1 175 304.4 177.5 301.9 178.6 300.2 180 298.8 181.9 296.6 183.9 297 185.9 297 187.9 296.8 189.9 296.8 191.9 296.6 193.8 299.4 195.3 301.1 196.2 303.1 197.9 305 200 306.2 202.4 307.7 205 308.8 207.7 310 210.6 310.6 M210.5 310.5 253.2 310.5 255 300 255.2 298 255.1 296 255.9 294 256.1 292 256.2 290 256.3 287.5 256.4 285 257 282.5 255.6 280.6 254.7 278.4 253.8 276.2 281.2 198.5 M257 282.5 257 284.6 257.3 286.6 258.4 288.4 258.4 290.5 258.8 292.5 262.5 302.5 262.8 304.8 263.7 306.9 264.4 309.1 265 311.2 266.1 312.9 267.3 314.5 268.6 316.1 270 317.5 271.8 318.5 273.2 320 274.7 321.3 276.2 322.5 365 329.5 M210.6 310.6 210.6 313.5 211.2 316.2 211.2 318.4 211.3 320.5 211.9 322.5 211.9 325 211.2 327.5 210.7 330 210 332.5 210.1 335 210 337.5 211.2 341.2 212.2 343.3 213.8 345 215.2 346.6 216.2 348.5 218.8 348.5 221.2 348.8 225 348.8 227.5 350.6 231.2 351.2 231.2 355 230.9 357.6 230 360 230.4 362.5 231.2 365 231.6 367.6 232.5 370 232.5 372.5 232.5 375 231.7 376.9 230.6 378.8 229.4 380.5 228.8 382.5 228.2 384.6 227.1 386.4 225.6 387.9 225 390 223.7 392.4 222 394.5 M245.6 137.5 245.3 139.7 245.8 141.9 245.5 144.1 245.9 146.2 245.6 148.5 246.3 150.6 245.8 152.8 246.2 155 246.3 157.6 246.9 160 247.5 162.5 247.8 165 248.3 167.5 248.5 170 250.6 173.1 251.8 175.2 252.2 177.5 253 180.1 254.1 182.5 255.7 184.5 256.6 186.9 258.9 187.6 261.2 188.1 263.8 188 266.2 188.8 267.9 190.4 270 191.2 273.1 193.8 276.5 195.2 M276.5 195.2 278.5 194.9 280.5 194.3 282.5 193.8 284.4 194.4 283.1 196.9 281.2 198.5 278.8 201.2 276.2 203.8 273.1 203.1 270.6 201.9 271.2 200 273.8 198.5 276.2 196.9 276.5 195.2 M246.2 155.1 232.5 155.4 231.4 157.1 230.3 158.8 229.4 160.6 228.2 162.7 227.5 165 225 167.5 224.8 170.1 223.8 172.5 221.2 173.8 219.9 171.1 218.1 168.8 214.4 167.5 212.9 168.9 211.2 170 210.5 172.5 210 175 209.8 177.6 208.8 180 208.1 183.8 205 183.8 203.9 181.7 202.5 180 201.5 178.1 200.3 176.5 198.8 175 197 173.2 195 171.9 196.2 152.5 195.8 150.5 195.7 148.5 195.6 146.5 195.2 144.5 195 142.5 194.6 140.5 194.2 138.5 193.4 136.5 193.3 134.4 192.5 132.5 191.9 129.9 190.7 127.5 190 125 188.8 123.1 187.5 121.2 184.5 120 M303.1 119.4 303 121.6 302.5 123.8 303.8 127.5 306.1 128.8 308.8 129.4 311.4 130.7 313.8 132.5 315.7 133.7 317.5 135 319.2 136.7 320.6 138.8 321 141.3 321.9 143.8 325 146.2 325.8 148.8 326.9 151.2 326.9 153.4 327.8 155.4 328.1 157.5 329.4 159.9 330 162.5 330.5 164.9 331.9 166.9 333.1 170 333.8 172.3 335.3 174.1 336.2 176.2 338.1 178.1 340 180 M340 180.2 343.1 178.8 344.1 176.9 345 175 346.2 171.2 347.6 169.8 348.8 168.1 350 165.6 351.9 163.1 354.4 160.6 356.9 158.1 359.4 155 360.4 152.9 361.9 151.2 363 149.6 364.4 148.1 366 146.6 367.5 145 M363.8 151.9 367.5 151.2 369.6 151.4 371.7 151.8 373.8 152.5 374.4 156.2 371.2 158.1 367.5 157.5 364.4 156.2 364.2 154 363.8 151.9 M371.2 158.1 373.3 157.8 375.4 157.8 377.5 158.1 378.1 160.6 375.9 161.9 373.8 163.1 371.2 162.9 368.8 162.5 370.1 160.4 371.2 158.1 M350 165.6 353.8 164.4 355.6 166 356.9 168.1 354.4 170.6 M359.4 155 360.7 156.7 361.2 158.8 364.4 160 366.4 161.6 368.8 162.5 M386.2 182.2 385 184.4 383.8 186 381.9 187.5 379.4 188.8 376.9 190 374.8 191 372.5 191.2 370.1 190.3 367.5 190 365.2 190.3 363.1 191.2 M388 183.5 388.8 184.5 385.6 185.2 382.5 187.8 381.1 189.7 379.4 191.5 378.6 193.6 377.5 195.6 M388.8 184.4 391.9 185 M422.5 178.8 421.9 181.2 421.7 183.8 421.2 186.2 421.2 188.5 420.4 190.6 420.2 192.8 420 195 419.1 196.9 418.9 199 418.2 200.9 418 203 417.5 205 416.7 207.5 415.9 210 415 212.5 414.4 214.6 412.8 216.1 412.1 218.1 411.2 220 410.5 222 409.3 223.7 408.3 225.6 407.5 227.5 406.5 229.3 405.2 231.1 404.6 233.1 403.8 235 402.3 236.4 401.3 238.2 400.3 239.9 398.8 241.2 397.1 242.7 395.6 244.3 394 245.8 392.5 247.5 390.7 248.9 388.6 249.7 387 251.2 M386.2 250.6 387.5 252.5 389.9 253.6 392.5 254.4 393.8 256.9 392.5 260 391.2 263.8 390 267.5 388.9 269.5 387.5 271.2 385.7 272.9 383.8 274.4 381.8 275.8 380 277.5 378.8 281.2 378.1 285 376.9 288.8 378.1 291.9 380 294.4 379.8 296.6 379.4 298.8 378.4 301.2 378.1 303.8 377 306.3 375.6 308.8 373.7 311.1 372.5 313.8 371.2 315.6 370 317.5 368.9 320.1 367.5 322.5 366.2 326.2 365.6 330 365.6 330 364.8 332.1 364.2 334.3 363.1 336.2 362.1 338.3 361.7 340.5 360.6 342.5 360.8 344.6 360 346.7 359.8 348.8 359.8 350.9 358.8 352.9 358.8 355 358.6 357.1 359.1 359.2 359 361.2 358.9 363.3 359 365.4 359.4 367.5 359.5 369.6 359.8 371.7 360 373.8 360.6 376.6 361.2 379.4 361.9 380 M386.2 250.6 390 249.4 393.8 249.4 397.5 250.6 400.6 251.9 403.1 253.8 404.4 257.5 404.2 260 404.4 262.5 404.8 265 405 267.5 404.5 270 403.8 272.5 403 275 402.5 277.5 401.2 281.2 400 283.8 402.5 286.2 403.9 288.1 405 290 406.9 293.1 408.8 296.2 410.6 298.1 413.8 296.2 416.2 296.9 417.5 300 416.9 303.8 413.8 305 411.9 307.5 410.6 311.2 409.4 313 408.8 315 411.2 317.5 412.3 319.3 413.1 321.2 414.4 325 415 327 416.2 328.8 417.5 330 418.7 331.9 420 333.8 421.8 334.8 423.3 336.2 425 337.5 M482.5 208.8 480.9 211.1 480 213.8 478.3 214.8 476.6 215.9 475.2 217.3 473.8 218.8 472.2 220.1 471.1 221.7 470.2 223.6 468.8 225 468 227.5 467.2 230 466.2 232.5 466.8 235 467.5 237.5 467.3 240 466.9 242.5 467.7 245 468.1 247.5 467.5 251.2 466.5 253.3 465 255 464.8 257.5 464.4 260 464.7 262.6 465.6 265 467.5 267.5 467.1 270 466.9 272.5 465 275 463 275.5 461.2 276.5 457.5 276.2 455 275 451.2 276.2 448.8 278.8 447.3 280.2 446.2 281.9 444.6 283.4 442.5 284.4 440.4 285.4 438.8 286.9 436.9 287.8 435 288.8 431.9 291.2 430.6 295 429.9 297.5 429.4 300 428.7 302.5 428.1 305 427.5 307.6 426.2 310 425.1 312.5 423.8 315 423.9 317.6 424.8 320 425.6 322.4 425.6 325 426.1 327.5 426 330 425.8 333.8 425.8 335.9 425.5 338 M488 209.5 488 211.5 487.5 213.5 487.5 215.5 487 217.5 487.7 220 488.5 222.4 488.8 225 489.7 227.8 490.8 230.5 490.8 232.8 491.2 235 491.5 237.6 492.5 240 492.6 242.5 491.9 245 492.2 247.6 493.1 250 492.2 252.4 491.9 255 492.7 257.5 493.8 260 494.5 262.5 495 265 496.2 268.8 497.2 270.6 498.1 272.5 499.3 274.2 500 276.2 500.6 280 499.7 281.9 498.8 283.8 497.5 286.9 M490.6 232.5 489.9 234.9 489.8 237.5 489.8 240 490.2 242.5 490.9 245 491.2 247.5 492.5 251.2 M497.5 286.9 498.1 290 498.8 293.8 498.1 297.5 496.8 299.2 496.2 301.2 493.8 303.8 492 305.1 490.6 306.9 487.5 309.4 M487.5 309.4 485 311.9 482.5 315 480 317.5 478.2 318.5 476.2 319.4 475 321 473.1 321.9 470 323.8 466.2 323.1 464.2 322.5 462.5 321.2 460.7 320.3 458.8 319.4 455.6 320.6 454.4 323.8 455 327.5 456 330 455 333.8 454.1 335.8 453.1 337.8 452.5 340 450.3 341 448.3 342.4 446.2 343.8 444.4 345.2 442.1 346 440 347 437.5 346.6 435 346.2 433.4 344.9 431.4 344 430 342.5 428.4 341.1 426.9 339.6 425.5 338 M497.5 287 501.2 286.2 503.8 286.7 506.2 286.2 508.8 286.2 511.2 286.2 514.4 288.1 515.3 289.9 516.9 291.2 518.5 292.5 519.4 294.4 521.9 293.1 525 291.2 M525 291.2 526.2 287.5 525 283.8 523.8 280 524.7 277.6 525 275 526.2 271.2 M543.8 243 541.8 245.2 540 247.5 538.8 249.4 537.5 251.2 537.5 250 536.2 253.8 535.5 255.7 534.4 257.5 533.2 259.4 531.9 261.2 530.1 262.3 528.8 263.8 526.9 266.9 526.2 270.6 M526.2 270.6 530 270 533.8 268.8 535.6 267.7 537.5 266.9 539.5 266.1 541.2 265 545 263.8 546.2 265.6 544.4 268.8 541.9 271.2 541.2 273.8 543.8 275 547.5 275.6 549.5 276.7 551.2 278.1 553.1 279.4 554.1 277.3 554.4 275 554.8 272.5 555.6 270 557.5 268.1 561.2 269.4 563.7 269.9 566.2 270 568.3 270.2 570.4 270.6 572.5 270.6 576.2 271.5 M525 291.2 528.1 292.5 531.9 293.1 535 291.9 538.1 289.4 539.6 288 541.2 286.9 545 285.6 548.1 286.9 547.5 289.4 545 290.6 544.4 294.4 543.8 297.5 545.6 300 546.9 303.8 548.8 303.1 550.6 300.6 553.1 298.1 554.4 296.5 556.2 295.6 558.1 294.5 560 293.8 563.8 292.5 565.5 291 567.5 290 570.6 287.5 573.8 286.9 577.5 288.1 M490 309.4 491.9 311.2 493.3 313 494.4 315 495.3 317.4 495.6 320 497.5 322.5 500 321.2 500.5 319.2 501.9 317.5 504.4 315 506.9 313.1 509.4 310 512.5 308.1 515 306.9 517.5 308.8 519.4 309.7 521.2 310.6 524.4 311.9 527.5 312.5 528.8 314.2 529.4 316.2 530.6 319.4 531.9 321.2 M531.9 320 533.8 317.5 536.2 315 538.1 311.9 540 314.4 542.5 316.2 544.6 317.5 546.2 319.4 549.4 320.6 552.5 319.4 555.6 318.1 558.1 315 560.6 313.1 563.8 312.2 567.5 311.9 571.2 311.2 574.4 311.9 M531.9 321.2 533.8 323.8 535.7 324.5 537.5 325.6 539.6 326.6 541.2 328.1 543 329.6 545 330.6 547.1 331.9 548.8 333.8 550.9 335 552.5 336.9 554.4 338.3 556.2 339.8 M533.8 323.8 535 327.5 536.2 331.2 536.9 335 535.6 338.8 535 342.5 532.5 345 531.2 347.5 531.9 350 533.8 352.5 535.7 353.9 537.1 355.8 538.8 357.5 542.5 358.8 M361.9 380 363.3 377.6 364.4 375 366.9 373.8 366.6 376 365.6 378.1 366.9 380.6 369 382 371.2 383.1 373.4 384.4 375 386.2 378.1 388.1 378.8 385.3 379.4 382.5 381.9 380.6 383.8 381.9 385.6 380.6 386.8 382.2 388.1 383.8 388.9 385.9 389.4 388.1 391.2 388.8 393.8 386.9 395.6 388.1 398.8 388.8 399.7 390.6 401.2 391.9 402.2 389.1 402.5 386.2 405 388.1 408.8 387.5 410.4 385.9 412.5 385 414.3 384.2 416.2 383.5 418.7 383.1 421.2 383.1 M361.9 380 361.1 382.5 360.6 385 360.1 387.7 358.8 390 358.1 392.1 357.4 394.1 356.9 396.2 356.3 398.3 355.7 400.4 355.6 402.5 355 404.5 354.9 406.6 354.8 408.8 354 410.8 353.8 413 353.1 415 351 417 348.8 418.8 346.9 421.1 345.6 423.8 345.1 425.9 344.2 427.9 343.8 430 341.7 430.9 340 432.5 338.3 434.1 336.6 435.8 335 437.5 333.6 439.1 332.6 440.9 331.2 442.5 330.4 444.6 329.4 446.6 328.8 448.8 328 450.9 327.3 453 326.2 455 325.3 457.4 324.9 460 324.5 462.5 324.5 464.5 324.3 466.5 324.3 468.5 323.8 470.5 M426.2 338.1 424.5 339.9 422.5 341.2 421.5 343.3 420 345 419.1 346.9 418.1 348.8 417.3 351.3 416.2 353.8 417.5 356.9 420 358.8 422.5 360 420 363.1 421.9 365 419.4 368.1 418.9 370.3 418.8 372.5 421.2 375 421.8 377.5 421.9 380 421.2 383.1 421.9 386.2 422.5 390 421.6 391.9 420.6 393.8 420 396.2 420 398.8 420.7 401 421.9 403.1 422.8 405.2 424.4 406.9 424.7 409.1 425 411.2 424.2 413.7 424 416.2 423.8 418.3 423.6 420.4 423.1 422.5 M355 495 356.3 492.5 357.5 490 358.5 488.1 359.8 486.5 361.2 485 363.5 483.1 366.2 482 368.3 481.5 370.3 480.6 372.5 480.5 375 479.8 377.5 478.8 379.6 478 381.5 476.7 383.8 476.2 385.8 475.9 387.9 475.5 390 475.5 392.1 475.8 394.1 476.7 396.2 477 398.7 475.9 401.2 475 403.1 473.1 405 471.2 405.8 469.4 406.6 467.5 407 465.5 406.5 463.5 405.3 461.8 404.5 460 405.6 458 406.1 455.6 407.5 453.8 406.5 451.8 405.8 449.7 405.5 447.5 404.7 445.5 404.6 443.3 403.8 441.2 405.3 438.9 406.2 436.2 408.2 434.4 410 432.5 410 430.3 410.8 428.3 411.2 426.2 411.3 424.1 411.6 422.1 412 420 413.8 418.8 416.2 417.5 416.5 415.3 416.9 413.1 419.4 413.8 420.5 415.5 421.2 417.5 421.8 420.1 423.1 422.5 M423.1 422.5 424.8 420.7 426.2 418.8 428 417.3 430 416.2 432 415.2 433.8 413.8 435.7 412.6 437.5 411.2 439.6 410 441.2 408.1 442.9 406.6 445 405.6 448.8 405 450.8 406.1 453.1 406.2 453.5 408.4 453.8 410.6 454.8 412.3 456.2 413.8 458.8 415 460.3 413.8 461.9 412.5 465 411.9 468.1 414.4 471.2 416.2 472.8 417.5 474.4 418.8 477.5 420 481.2 419.4 483.1 421 485 422.5 486.6 424.4 488.1 426.2 489.4 430 490.5 431.2 492.8 431.4 495.2 431.3 497.5 431.2 499.6 431.4 501.7 431.8 503.8 432.5 505.5 434.5 507.5 436.2 507.3 438.8 508 441.2 505.7 442.9 503.8 445 502.6 446.8 501.6 448.6 500 450 499.4 452 499.4 454 499 456 498.8 458 500.5 460.2 502 462.5 503.5 464.2 504.5 466.2 506 467.9 507.9 469.1 509.5 470.5 510.5 472.3 512 473.8 M504.5 466.2 502.6 466.7 500.6 467.1 498.8 468 496.2 468.1 493.7 468.8 491.2 469.5 490.5 471.5 489.3 473.3 488 475 486.7 477.6 486.2 480.5 488.2 482.8 489.5 485.5 490.5 487.3 492 488.7 493 490.5 493.2 493 493.8 495.5 492.1 497.8 491.2 500.5 489.7 503.1 488 505.5 486.5 507.1 485.5 509 482 510 481.6 512.5 481.2 515 481.2 517.5 481.5 519.8 482.5 521.9 482.5 524.2 485 525.1 487.5 525.5 490.2 526 493 526.2 M480.5 518.8 479.3 520.5 479 522.6 478 524.5 477 526.2 476.3 528.8 475.5 531.2 475.6 530 475.5 532.2 475 534.4 471.9 536.2 469.7 537.1 467.5 538.1 465.8 539.3 463.8 540 460 539.4 456.2 540.6 452.5 541.9 448.8 543.1 445 544.4 443 544.9 441.2 545.9 437.5 546.9 435.8 548.1 433.8 548.8 430 550 427.5 549.4 426.9 552.5 423.8 553.8 420 554.4 418.1 552.5 416.9 548.8 415.7 547 415 545 413.8 541.2 414.4 537.5 415.6 533.8 416.9 530 416.2 530 414.5 528.6 412.5 527.5 410.9 525.2 410 522.5 409 520.1 408.7 517.5 408 515 407.5 512.5 407 510 406.2 507.5 403.8 504.5 401.7 504.8 399.6 505 397.5 505 395.1 505.8 392.4 505.4 390 506.2 387.9 506.7 385.7 506.7 383.8 507.5 381.2 510.5 379.6 508.9 379 506.6 377.5 505 374.9 504.6 372.5 503.3 370 502.5 367.5 502 365.1 501.3 362.5 501.2 360.5 500.6 358.3 500.4 356.2 500 M441.2 545.9 442.5 548.8 445.6 549.8 448.8 550 448.1 553.1 445 554.4 442.5 555.6 440.6 558.1 440 560.6 440.2 562.8 M265 468.8 266.2 467 268.2 465.4 270 463.8 271.7 461.7 273.8 460 276.4 459.4 278.8 458 280.8 457 282.5 455.5 284.5 456.6 286.2 458 288.7 459.1 291.2 460 293.8 461.1 296.2 462.5 298.4 462.2 300.4 463.2 302.5 463 304.6 461.7 306.2 460 308 462 310 463.8 313.8 462.5 315.5 459.5 315.6 461.5 315.5 463.5 316.1 465.5 316.2 467.5 318.1 468.6 320 469.5 323.8 470.5 325.8 472.6 327.5 475 327.8 477.6 328.8 480 330.5 481.2 332.1 482.4 333.8 483.8 335.7 485.3 338 486.1 340 487.5 342.1 488.4 344.2 489.4 346.2 490.5 348.8 491.6 351.2 493 353.1 493.7 355 494.5 M355 495 355.4 497.6 356.2 500 355.7 502.2 354.4 504.1 353.8 506.2 352.4 507.8 351.5 509.8 350 511.2 348.5 513.7 347 516.2 346.5 518.5 345.1 520.3 344.5 522.5 343.5 524.5 343 526.7 342 528.8 341.1 530.9 339.6 532.8 338.8 535 337.3 536.5 336.6 538.6 335 540 333.4 541.7 331.8 543.5 330 545 328.4 547.5 326.2 549.5 324.1 550.7 322.5 552.5 320.9 553.9 320 555.9 318.8 557.5 317.7 560.1 316.2 562.5 314.8 564.9 313.8 567.5 312.2 569.9 311.2 572.5 M326.2 549.5 328.4 549.6 330.4 549.3 332.5 548.8 335 549.2 337.5 549.2 340 549.5 342.5 550.2 345 549.8 347.5 550.5 350 551.2 352.4 551.9 355 552 357.5 552.5 360 553.3 362.5 553.8 364.7 554.3 366.8 555 368.8 556.2 370.3 558.8 372 561.2 372.3 563.4 373.4 565.4 373.8 567.5 374.4 569.6 375.5 571.6 376.2 573.8 376.7 575.8 377.4 577.9 377.5 580 380 583.1 382.5 584.1 385 585 388.8 586.2 389.4 590 392.5 590.6 393.8 593.8 391.9 596.9 390.6 599.4 M385.6 598.1 388.8 599 390 597.2 391.9 595.9 M385 610 386.2 613.8 388.1 612.8 M461.9 551.9 463.8 551 464.8 553.1 462.5 554.4 461.9 551.9 M441.2 555 445 554.4 448.1 555.6 451.9 555 455 556.5 M440.6 558.1 443.8 558.5 446.9 556.9 M318.8 613 320.8 613.7 323 613.8 325 614.5 327.4 615.4 330 615.6 332.5 616.2 335 616.7 337.5 617.2 340 617.5 342.5 617.4 345 617.5 347.5 618 350 616.2 351 613.6 352.5 611.2 355 611 357.5 611.3 360 611.2 362.5 610.6 365 610.2 367.5 610 370 609.5 372.5 609.3 375 608.8 377.5 608.5 380 607.7 382.5 607.5 384.7 608.3 387 608.8 M316.2 627.5 318.3 627.4 320.4 627.3 322.5 627 325.1 627.2 327.5 628 329.9 629.4 332.5 630 335 630.7 337.5 631.2 340 632.5 342.5 633.8 344 635.2 346 636 347.5 637.5 349.3 638.6 350.7 640.2 352.5 641.2 354.3 643.2 356.2 645 358.1 646.9 360 648.8 M360 648.8 362.5 649.5 365.1 649.6 367.5 650.6 369.8 651 371.9 651.9 372.5 653.8 370.6 656.2 369.4 660 368.1 663.8 369.8 665 M445.4 200 444.5 202.2 444.2 204.5 443.5 206.6 443.1 208.8 442.1 211 441.6 213.4 440.6 215.6 442.2 213.6 443.1 211.2 444.6 209.9 445.6 208.1 M390.5 627.5 391.2 629.4 392.5 631 392.4 633.5 393 636 392.7 638.6 391.5 641" fill="none" stroke="#000" stroke-width="1.6" stroke-linejoin="round" stroke-linecap="round"/>
<path d="M350.6 677.5 351.2 681.2 353.1 683.1 355 683.8 357.5 682.5 360 680.6 361.2 683.1 360 686.2 358.1 689.4 355.6 692.5 353.8 696.2 351.2 700 348.1 703.1 345 706.2 341.9 709.4 338.8 712.5 337.5 711.2 338.1 708.8 340.6 706.2 342.5 703.1 345 700 347.5 696.9 348.8 693.8 350 690 350.6 686.2 351 682.5 350.6 677.5Z M445.9 208.1 446.5 203.1 448.8 201 451 200.6 449.8 203.8 447.8 206.5 445.9 208.1Z" fill="none" stroke="#000" stroke-width="1.3" stroke-linejoin="round"/>
<path d="M397.5 168.8 398.7 169.1 399.8 170.2 401.2 170 402.5 170.2 403.6 171.1 405 171.2 406.5 171.2 407.7 171.8 408.8 172.8 409.8 173.7 411 174.4 412.5 174.1 413.7 175 415 175.2 416.6 175.1 417.2 177.1 419.1 176.2 419.8 178.1 421.2 178.1 422.8 178.2 423.9 179.1 424.8 180.4 426.2 180.6 426.9 182 428.2 182.4 429.8 182.4 430.6 183.5 431.6 185.2 433.1 186.2 M435.6 182.8 436.6 181.5 438.1 181.2 439.4 182.2 439.2 184.1 440.6 185 441.3 186.3 442.4 187.4 442.5 189 442.5 190.8 444.4 191.9 444.4 193.8 444.4 195.2 445.8 196.2 445.6 197.8 444.9 199.4 445.2 201.2 444.7 202.4 444.9 203.9 444 205" fill="none" stroke="#000" stroke-width="2.3" stroke-linejoin="round" stroke-linecap="round"/>
<rect x="393.0" y="426.8" width="12.5" height="10" fill="none" stroke="#000" stroke-width="1.1"/>
<ellipse cx="525.6" cy="381.0" rx="1.1" ry="2.6" fill="#fff" stroke="#000" stroke-width="1" transform="rotate(8 525.6 381.0)"/>
<rect x="244" y="74" width="1" height="1" fill="#e11400"/><rect x="312" y="78" width="1" height="1" fill="#e11400"/><rect x="380" y="82" width="1" height="1" fill="#ff6000"/><rect x="446" y="86" width="1" height="1" fill="#ff6000"/><rect x="515" y="91" width="1" height="1" fill="#ff6000"/><rect x="581" y="95" width="1" height="1" fill="#ffa000"/><rect x="521" y="151" width="1" height="1" fill="#ff6000"/><rect x="545" y="150" width="1" height="1" fill="#ff6000"/><circle cx="524.5" cy="470.5" r="0.9" fill="#000"/>
</g>
<g transform="translate(620,0)" shape-rendering="crispEdges">
<g clip-path="url(#bz)">
<rect x="30" y="64" width="553" height="17" fill="#ff6000"/>
<rect x="348" y="81" width="14" height="18" fill="#ffa000"/>
<rect x="30" y="81" width="318" height="18" fill="#ff6000"/>
<rect x="362" y="81" width="221" height="18" fill="#ff6000"/>
<rect x="30" y="99" width="553" height="17" fill="#ff6000"/>
<rect x="210" y="116" width="55" height="35" fill="#ffa000"/>
<rect x="30" y="116" width="180" height="35" fill="#ff6000"/>
<rect x="265" y="116" width="97" height="35" fill="#ff6000"/>
<rect x="30" y="151" width="194" height="17" fill="#ff6000"/>
<rect x="279" y="151" width="83" height="17" fill="#ff6000"/>
<rect x="224" y="151" width="55" height="17" fill="#ffa000"/>
<rect x="362" y="116" width="221" height="69" fill="#ffa000"/>
<rect x="307" y="168" width="55" height="17" fill="#ff6000"/>
<rect x="30" y="168" width="208" height="17" fill="#ff6000"/>
<rect x="238" y="168" width="69" height="17" fill="#ffa000"/>
<rect x="265" y="185" width="318" height="17" fill="#ffa000"/>
<rect x="30" y="185" width="235" height="17" fill="#ff6000"/>
<rect x="293" y="202" width="193" height="18" fill="#ffa000"/>
<rect x="486" y="202" width="42" height="18" fill="#ffe878"/>
<rect x="528" y="202" width="55" height="18" fill="#ffa000"/>
<rect x="30" y="202" width="263" height="18" fill="#ff6000"/>
<rect x="30" y="220" width="277" height="17" fill="#ff6000"/>
<rect x="307" y="220" width="179" height="17" fill="#ffa000"/>
<rect x="541" y="220" width="42" height="17" fill="#ffa000"/>
<rect x="486" y="220" width="55" height="17" fill="#ffe878"/>
<rect x="486" y="237" width="83" height="17" fill="#ffe878"/>
<rect x="30" y="237" width="318" height="17" fill="#ff6000"/>
<rect x="348" y="237" width="138" height="17" fill="#ffa000"/>
<rect x="569" y="237" width="14" height="17" fill="#ffa000"/>
<rect x="445" y="254" width="55" height="17" fill="#ffa000"/>
<rect x="500" y="254" width="41" height="17" fill="#ffe878"/>
<rect x="541" y="254" width="42" height="17" fill="#ffa000"/>
<rect x="30" y="254" width="415" height="17" fill="#ff6000"/>
<rect x="30" y="271" width="428" height="18" fill="#ff6000"/>
<rect x="458" y="271" width="125" height="18" fill="#ffa000"/>
<rect x="514" y="289" width="27" height="17" fill="#ffa000"/>
<rect x="541" y="289" width="28" height="17" fill="#ff6000"/>
<rect x="30" y="289" width="484" height="17" fill="#ff6000"/>
<rect x="569" y="289" width="14" height="34" fill="#ffa000"/>
<rect x="30" y="306" width="539" height="17" fill="#ff6000"/>
<rect x="555" y="323" width="14" height="18" fill="#ffa000"/>
<rect x="30" y="323" width="525" height="18" fill="#ff6000"/>
<rect x="569" y="323" width="14" height="18" fill="#ff6000"/>
<rect x="30" y="341" width="553" height="51" fill="#ff6000"/>
<rect x="30" y="392" width="470" height="52" fill="#ff6000"/>
<rect x="514" y="392" width="69" height="52" fill="#ff6000"/>
<rect x="500" y="392" width="14" height="52" fill="#e11400"/>
<rect x="30" y="444" width="553" height="69" fill="#ff6000"/>
<rect x="472" y="513" width="111" height="18" fill="#ffa000"/>
<rect x="30" y="513" width="442" height="18" fill="#ff6000"/>
<rect x="431" y="531" width="152" height="17" fill="#ffa000"/>
<rect x="30" y="531" width="401" height="17" fill="#ff6000"/>
<rect x="362" y="548" width="221" height="17" fill="#ffa000"/>
<rect x="30" y="548" width="332" height="17" fill="#ff6000"/>
<rect x="30" y="565" width="304" height="17" fill="#ff6000"/>
<rect x="334" y="565" width="249" height="17" fill="#ffa000"/>
<rect x="30" y="582" width="553" height="35" fill="#ffa000"/>
<rect x="30" y="617" width="346" height="17" fill="#ffa000"/>
<rect x="376" y="617" width="13" height="17" fill="#ffe878"/>
<rect x="389" y="617" width="194" height="52" fill="#ffa000"/>
<rect x="362" y="634" width="27" height="35" fill="#ffe878"/>
<rect x="30" y="634" width="332" height="52" fill="#ffa000"/>
<rect x="376" y="669" width="207" height="17" fill="#ffa000"/>
<rect x="362" y="669" width="14" height="17" fill="#ffe878"/>
<rect x="30" y="686" width="553" height="17" fill="#ffa000"/>
<rect x="30" y="703" width="290" height="52" fill="#ffa000"/>
<rect x="320" y="703" width="28" height="52" fill="#ffe878"/>
<rect x="348" y="703" width="235" height="52" fill="#ffa000"/>
</g>
<path d="M350.6 677.5 351.2 681.2 353.1 683.1 355 683.8 357.5 682.5 360 680.6 361.2 683.1 360 686.2 358.1 689.4 355.6 692.5 353.8 696.2 351.2 700 348.1 703.1 345 706.2 341.9 709.4 338.8 712.5 337.5 711.2 338.1 708.8 340.6 706.2 342.5 703.1 345 700 347.5 696.9 348.8 693.8 350 690 350.6 686.2 351 682.5 350.6 677.5Z M445.9 208.1 446.5 203.1 448.8 201 451 200.6 449.8 203.8 447.8 206.5 445.9 208.1Z M364 150 366.5 148.1 365.5 152.5 363 156.5 360.5 160.2 358 163.5 356.5 162.2 359 158.2 361.5 154.5Z" fill="#fff" stroke="none"/>
<path d="M38.8 286.2 39.6 284.1 41.2 282.5 40.5 278.8 42.1 276.8 43.8 275 45.4 273.4 47.5 272.5 48.5 270 49.5 267.5 49.8 265 49.9 262.5 50 260 50.4 257.4 51.3 254.9 52.5 252.5 49.2 267.5 48.8 263.8 49.6 261.6 50.3 259.4 51.5 257.3 51.9 255 52.4 253 53.2 251 53.6 249 53.8 246.9 55.4 245.3 57.4 244.4 59 242.8 60.6 241.2 62.4 240.3 64.2 239.3 65.8 238 67.5 236.9 80 233.8 82.5 230.8 85.3 231 88 230.5 89.5 232.2 91.2 233.8 93.8 232.5 95.5 220 97.5 206.2 99.5 192.5 101.2 179.5 100.5 177.3 99.7 175.1 98.8 173 98.2 170.8 96.9 168.7 95.6 166.6 94.5 164.5 93 162.5 91.8 150 93.9 148.8 96.2 148 98.7 147.6 101.3 147.4 103.8 147 104.5 144.2 104.5 141.2 102.2 141.3 99.9 141.1 97.8 140.1 95.5 140 95.5 137.6 94.8 135.3 95 132.8 94.5 130.5 97.4 130.1 100 129 115 129 118.8 128.8 117.4 126.8 117 124.5 118.5 126.2 120 128 121.6 125.6 123.8 123.8 127.5 122.5 128.8 124.5 129.8 126.8 131.2 128.8 131.4 130.9 132.6 132.8 132.2 135 133 137 135.2 138.1 136.7 140.1 138.8 141.2 140.1 143.1 142.1 144.3 143.8 145.8 146.2 145.7 148.8 145.9 151.2 145.8 153.3 144.9 155.4 144.3 157.5 143.8 159 141.9 160.8 140.4 162.5 138.8 164.9 137 167.5 135.5 169.4 133.4 171.2 131.2 173 129.2 175 127.5 176.2 123.8 180 123 182.2 121.5 184.5 120 184.4 118.1 182.2 118.6 180 118.1 177.5 118.2 175 117.5 171.9 115 172 112.5 171.9 110 171.7 107.9 172 105.8 171.9 103.8 172.8 101.3 173.8 98.8 173.4 96.2 172.5 93.8 171 92.3 169.4 91 167.5 90 166.2 86.9 169.4 86 172.5 86.2 174.4 89.4 176.6 90 178.8 90.6 181 90.9 183.1 91.9 185.6 91.4 188.1 91.2 189.4 95 192.2 95 192.9 92.5 192.8 90 195 88.8 197.5 88.1 199.5 87.4 201.6 86.9 203.8 86.9 205.8 86.2 207.6 85 209.4 83.8 211.3 82.5 212.5 80.6 215 80.2 217.5 80 219.1 78.6 220.2 76.8 221.2 75 221.4 72.8 221.9 70.6 220 68.8 222.3 68.9 224.4 68.1 228.1 68.5 230.6 71.2 230.3 73.8 229.4 76.2 229.4 80 231.8 80.9 233.8 82.5 234.3 84.7 235 86.9 235.7 89.1 236.2 91.2 236 93.5 235 95.6 233.9 97.3 232.5 98.8 232.5 101.3 231.9 103.8 231.4 105.8 232 108 231.2 110 231.3 112.5 231.9 115 233.3 117.3 233.8 120 233.8 122.1 234.4 124.2 235 126.2 236.5 127.7 237.4 129.7 238.8 131.2 240.7 133.1 242.5 135 245.6 137.5 247.5 138.1 250 135 253.1 132.5 255.3 131.9 257.5 131.2 260.2 129.9 262.5 128.1 264.9 126.4 267.5 125 270 125.7 272.5 126.2 275 126 277.5 125.6 280 126.1 282.5 126.2 285.6 125 286.2 121.2 284.4 118.8 286.2 115.6 288.7 116.1 291.2 116.2 293.8 115.9 296.2 115 298.4 114.2 300.6 113.8 301.4 115.7 302.5 117.5 304.2 118.7 306.1 119.4 308 120.1 310 120.5 312.2 119.9 314 118.5 316.2 118 318.4 118.3 320.5 118.6 322.5 119.5 325 118.9 327.5 119.4 330 118.8 331.4 117.2 332.8 115.6 333.8 113.8 335 112 335.9 110.1 336.7 108.2 337.5 106.2 338.4 104 339.5 101.9 340 99.6 341.2 97.5 341.8 95.1 343 93.1 343.9 90.9 345 88.8 346.3 86.1 348 83.8 349.4 85.9 350.7 88.1 352.5 90 352.7 92 353.3 94 353.8 96 354.6 97.9 354.5 100 355.2 102 355.6 104 356.5 105.9 357.2 107.9 357.5 110 357.9 112.2 358.3 114.4 358.7 116.6 359.4 118.8 361.2 120.6 363.8 121.2 365 125 363.1 127.5 366.2 128.1 368.8 130 370 133.8 370.3 135.9 370.2 138.1 368.8 141.2 367.5 145 368.6 146.8 369 148.9 370.6 150.5 371.2 152.5 373.8 152.5 374.4 156.2 377.5 158.1 378.1 160.6 380.3 160.2 382.5 160.6 384.8 161.1 386.9 162.2 389 163.2 391.2 163.5 390.8 165.5 390.9 167.5 389.8 171.2 388.7 173.1 388.4 175.2 387 179 386.2 182.2 388 183.5 389.9 180 391 177.5 392.2 175 394.1 171.9 396.9 169.4 400 168.8 402.5 169.3 405 170 407.5 170.9 410 171.9 412.5 172.7 415 173.8 417.5 175 420 176.2 422.5 177.1 425 178.1 427.4 179.6 430 180.6 431.6 182.5 433.8 183.8 435.5 182.3 437.5 181.2 438.7 182.9 440.2 184.4 441.2 186.2 442.1 188.8 443 191.2 443.8 193.8 444.9 195.5 445.6 197.5 445.4 200 446.9 201.9 448.7 200.9 450.6 200.4 452.8 199.7 455 199.4 457.5 199.8 460 200.2 462.7 201 465 202.5 467 203.2 468.6 204.6 470.4 205.7 472.5 206.2 475 206.8 477.5 206.3 480 207 482.5 208.8 484.6 208.9 486.7 208.8 488.8 209.4 490.9 209.1 493 208.8 495 208.1 497.1 208.2 499.2 208 501.2 207.5 503.3 208.1 505.5 208.1 507.5 208.8 509.3 209.8 510.8 211.3 512.5 212.5 514.2 213.7 515.9 215 517.5 216.2 518.9 218.1 520.8 219.2 522.5 220.6 524.1 221.9 526.1 222.8 527.5 224.4 529.1 226.8 531.2 228.8 533.5 230.6 535 233.1 536.5 235.6 538.8 237.5 540.4 239.3 542.5 240.6 545 243.1 547.6 244.2 550 245.6 552.5 247.5 555 247 557.5 247.2 560 246.7 562.5 246.9 565 247.3 567.5 247.2 570 249.4 571.9 252.5 573.1 256.2 574.1 258.7 574.4 261.2 574.7 263.8 575.6 266.2 576 268.8 576.5 271.2 576.4 273.4 576.8 275.4 577.2 277.5 578 279.5 577.5 281.7 578.1 283.8 578.8 285.8 578.5 287.9 578.8 290 578.5 292.5 578.1 295 577.5 297.5 576.9 299.5 576.5 301.6 575.5 303.5 575.4 305.6 574.5 307.5 574.1 309.5 572.7 311.2 571.7 313 571.2 315 570.3 316.8 569.5 318.6 568.7 320.5 567.6 322.2 566.2 323.8 565.3 325.8 564.6 327.9 563.8 330 562.6 331.8 561.2 333.3 560 335 559.1 336.9 557.5 338.4 556.2 340 554.4 341.3 553.1 343.1 551.9 345 550 346.2 548.1 349.4 546.2 352.5 545.4 354.5 544 356.2 542.7 358 541.9 360 540.5 362 540 364.4 539.1 366.6 538.1 368.8 536.9 370.5 536.2 372.5 534.9 374.2 534.4 376.2 532.5 379.4 530.6 381.9 528.1 384.4 526 385 523.8 386.2 521.9 388.1 521.2 391.2 521.5 395 520.2 398.1 520 401.2 520.6 405 520.2 407.5 520.4 410 519.9 412.5 519.8 415 520 417.5 519.8 419.6 519.9 421.7 520.4 423.8 520.3 425.8 520.4 427.9 520.6 430 521.8 426.2 521.6 428.4 521.9 430.5 522.5 432.5 522.3 434.6 521.4 436.6 521.2 438.8 520.4 440.7 520.6 443 520 445 519.6 447.5 518.9 450 518.8 452.5 518.7 454.6 518 456.6 518.1 458.8 518.5 462.5 516.9 465 515 468.1 513.1 470.6 512.3 472.9 511.2 475 511.4 477.6 510.6 480 510.9 482.5 510.4 485 510.7 487.5 511 490 511.2 493.8 510 497.5 507.5 500 505.6 503.1 503.8 506.2 502.5 509.4 501.2 512.5 500.6 516.2 499.8 520 497.5 522.5 495.7 523.9 493.8 525 493.7 527.6 492.7 530 492.5 532.5 493.5 535 493.1 538.8 490 541.2 488.3 542.6 486.2 543.1 484.9 544.7 483.1 545.6 482.1 547.4 480.6 548.8 479.4 551.9 481.2 552.5 479.4 555.6 476.2 555.6 472.5 555.6 470 556.1 467.5 555.6 465 556 462.5 556.2 458.8 556.9 455 556.5 451.9 557.8 450 558.6 448.1 559.4 445 560 442.5 561.2 440 563.1 436.9 565 433.8 566.9 431.9 568.8 433.8 570.6 432.5 571.9 430 570 426.9 569.8 423.8 570.2 420.6 572.5 417.5 574.4 414.4 576.2 412.6 577.2 411.2 578.8 409.4 581.2 406.9 583.8 404.4 586.2 402.7 587.4 401.2 588.8 398.8 591.2 396.9 594.4 394.4 597.5 391.9 600.6 390 603.8 388.8 607.5 388.1 611.2 387.5 615 387.5 618 387.7 620.4 387.6 622.8 387 625.1 387.5 627.5 387.4 630 387.7 632.5 388 635 388.7 637.4 388.8 640 387.7 642.4 387.5 645 387 647.7 385.6 650 383.9 651.7 382.5 653.8 380.9 655.9 378.8 657.5 376.7 659.2 375 661.2 373.1 662.8 371.9 665 371.3 667.1 370 668.8 369.3 671.4 368.1 673.8 367.6 676.4 366.2 678.8 366.1 681.1 365 683.1 363.8 686.9 362.5 689.1 361.2 691.2 360.3 693.6 358.8 695.6 357.1 698 355 700 353.8 702.2 351.9 703.8 350.2 705.5 348.1 706.9 346.4 708.7 344.4 710 342.7 711.4 341.2 713.1 338.8 715.6 337.6 717.4 336.9 719.4 335.7 721.5 335 723.8 334.5 725.8 333.1 727.5 332.3 729.9 330.6 731.9 328.9 733.6 327.5 735.6 325.7 737 324.4 738.8 322.5 740.8 321 741.5 319.8 740.8 319.6 738.5 320 736.2 320.2 734 320.6 731.9 322.1 730.5 323.1 728.8 324.9 727.4 326.2 725.6 325.6 723.8 323.4 722.6 321.2 721.2 320.4 719.1 318.8 717.5 318 715.5 316.9 713.8 315.6 711.9 313.8 710.6 312.1 709.1 310 708.1 307.5 705 305.4 703.7 303.8 701.9 301.4 700.5 298.8 700 296.5 698.5 295 696.2 293.1 694.4 291.2 692.5 288.8 695.6 286.2 695 285.7 692.4 284.4 690 282.4 687.9 280 686.2 278.5 684.4 276.7 682.8 275 681.2 273.1 680.3 271.2 679.4 269.6 680.9 267.5 681.9 263.8 680.6 265.6 677.5 267 676.1 268.8 675 270.6 673.3 271.9 671.2 273.7 669.6 275 667.5 277.5 664.4 278.9 662.9 280 661.2 281.6 659.3 282.5 656.9 283.3 654.5 285 652.5 287.5 650 290 647.5 291.7 646 293.1 644.4 294.9 643.1 296.2 641.2 297.5 640 299.1 638.3 300.7 636.5 302.5 635 304.9 633.6 307.5 632.5 309.8 630.9 312.5 630 314.4 628.8 316.2 627.5 316.3 625.4 316.8 623.3 317.5 621.2 318.2 618.8 318.1 616.2 318.8 613.8 318.1 611.3 317.5 608.8 315.7 606.8 313.8 605 311.6 604.4 309.5 603.5 307.5 602.5 305 600 306 597.6 306.8 595.1 307.5 592.5 307.7 590 308 587.5 308 585 308.7 582.5 309.7 580.1 310 577.5 310.7 575 311 572.5 311.2 570 311.2 572.5 308.8 573.8 306.2 572.7 303.8 571.2 301.1 571.4 298.8 572.5 295 573 294.2 570.8 294.5 568.4 293.8 566.2 293.4 564.1 292.7 561.9 292.9 559.6 292 557.5 291.1 555.1 290.4 552.6 290 550 288.7 547.5 287.5 545 284.9 544.8 282.5 543.8 280.8 542.3 278.8 541.2 277.1 542.5 275 543 272.9 543.2 270.9 542.2 268.8 542.5 266.8 541.7 264.5 542.1 262.5 541.2 258.8 540 259.5 537.5 259 535 259.5 532.5 259.2 530 259.8 527.5 260 525 259.2 522.6 259.2 520 258.8 517.5 258.6 515 258 512.5 257.5 510 257.3 507.4 256.2 505 257.2 502.5 257.9 500 258.8 497.5 259.3 494.9 260.5 492.5 261.2 490 261.2 487.4 261.7 484.9 262.5 482.5 262.7 479.9 263.4 477.4 264.5 475 264.5 472.9 265 470.8 265 468.8 262.5 466.2 261.6 463.6 260 461.2 258 460.2 256.2 458.8 255.1 457 253.9 455.3 252.5 453.8 252 451.7 252.1 449.6 252 447.5 252.6 445.5 253.1 443.4 253 441.2 240 440.5 228.8 440 228.7 437.5 228.4 435 228 432.5 227.7 430 227.6 427.5 227.5 425 226.5 423.2 225.1 421.6 223.8 420 225 418 225.1 415.2 225.5 412.5 225.5 410 225.4 407.5 225 405 224.2 402.6 223.7 400.1 223.8 397.5 222.1 395.7 220 394.5 217.6 393.3 215 392.5 212.9 392.9 210.8 392.9 208.8 393 206.2 392.2 203.8 391.2 202.2 389.9 200.5 388.7 198.8 387.5 197.1 386.2 195.5 384.9 193.8 383.8 191.9 381.8 190 380 187.6 378.5 185 377.5 182.5 376.3 180 375 178 374.4 175.9 373.9 173.8 373.8 171.5 372.1 168.8 371.2 167.1 369.2 165 367.5 166.7 369.8 168.8 371.9 167.2 370 165 368.8 163.3 367 161.9 365 160.3 363.3 159.4 361.2 158.1 357.5 157.4 355.5 156.2 353.8 156.7 351.3 156.9 348.8 156.8 346.2 156.2 343.8 155.7 341.3 156 338.8 156.4 336.2 156.9 333.8 156.2 330 155 327.5 152.5 327.8 150 328.1 147.9 328.3 145.8 328.7 143.8 328.8 141.3 329.7 138.8 330 136.9 331.9 135 333.8 133.7 335.3 132.5 336.9 128.8 338.1 126.7 339.9 125 341.9 122.3 343.2 120 345 117.7 345.9 115.9 347.6 113.8 348.8 112.1 349.9 110.5 351.2 108.8 350 106.7 349.6 104.6 349.3 102.5 348.8 100.4 348.4 98.3 348.7 96.2 348 94.2 348.5 92.2 349.3 90 349.5 87.5 348.9 85 348.8 85.3 346.2 85 343.7 84.5 341.2 84.2 339 84.5 336.9 85.3 334.7 85 332.5 85.1 330.5 85.2 328.5 84.7 326.5 84.1 324.5 84.5 322.5 82.9 324.4 81.2 326.2 79.3 327.3 78 329.2 76.2 330.5 74.1 330.8 71.9 331.3 69.7 330.8 67.5 331.2 65.1 330.2 62.5 330 62.3 327.5 61.4 325.1 61.2 322.5 58.8 321.7 56.2 322.1 53.8 321.2 51.3 320.5 48.8 320 48.8 317.8 49.6 315.8 50 313.8 48.8 311.2 47.5 308.8 46.9 306.1 45.5 303.8 44.3 301.9 43 300 42 296.2 41.4 293.6 40 291.2 39.7 288.7Z" fill="none" stroke="#000" stroke-width="1.5" stroke-linejoin="round"/>
<path d="M41.2 282.5 86.2 299.5 138.8 329.5 M138.1 329 140 325.6 141.9 322.5 145 321.2 148.8 321.2 151.9 323.1 155 323.1 158.1 320.6 159.4 322.2 160.6 323.8 161.9 322.5 161.2 318.8 161.8 316.7 163.1 315 166.2 313.8 169.4 313.1 171.3 312.3 173.1 311.2 175 308.1 175 304.4 177.5 301.9 178.6 300.2 180 298.8 181.9 296.6 183.9 297 185.9 297 187.9 296.8 189.9 296.8 191.9 296.6 193.8 299.4 195.3 301.1 196.2 303.1 197.9 305 200 306.2 202.4 307.7 205 308.8 207.7 310 210.6 310.6 M210.5 310.5 253.2 310.5 255 300 255.2 298 255.1 296 255.9 294 256.1 292 256.2 290 256.3 287.5 256.4 285 257 282.5 255.6 280.6 254.7 278.4 253.8 276.2 281.2 198.5 M257 282.5 257 284.6 257.3 286.6 258.4 288.4 258.4 290.5 258.8 292.5 262.5 302.5 262.8 304.8 263.7 306.9 264.4 309.1 265 311.2 266.1 312.9 267.3 314.5 268.6 316.1 270 317.5 271.8 318.5 273.2 320 274.7 321.3 276.2 322.5 365 329.5 M210.6 310.6 210.6 313.5 211.2 316.2 211.2 318.4 211.3 320.5 211.9 322.5 211.9 325 211.2 327.5 210.7 330 210 332.5 210.1 335 210 337.5 211.2 341.2 212.2 343.3 213.8 345 215.2 346.6 216.2 348.5 218.8 348.5 221.2 348.8 225 348.8 227.5 350.6 231.2 351.2 231.2 355 230.9 357.6 230 360 230.4 362.5 231.2 365 231.6 367.6 232.5 370 232.5 372.5 232.5 375 231.7 376.9 230.6 378.8 229.4 380.5 228.8 382.5 228.2 384.6 227.1 386.4 225.6 387.9 225 390 223.7 392.4 222 394.5 M245.6 137.5 245.3 139.7 245.8 141.9 245.5 144.1 245.9 146.2 245.6 148.5 246.3 150.6 245.8 152.8 246.2 155 246.3 157.6 246.9 160 247.5 162.5 247.8 165 248.3 167.5 248.5 170 250.6 173.1 251.8 175.2 252.2 177.5 253 180.1 254.1 182.5 255.7 184.5 256.6 186.9 258.9 187.6 261.2 188.1 263.8 188 266.2 188.8 267.9 190.4 270 191.2 273.1 193.8 276.5 195.2 M276.5 195.2 278.5 194.9 280.5 194.3 282.5 193.8 284.4 194.4 283.1 196.9 281.2 198.5 278.8 201.2 276.2 203.8 273.1 203.1 270.6 201.9 271.2 200 273.8 198.5 276.2 196.9 276.5 195.2 M246.2 155.1 232.5 155.4 231.4 157.1 230.3 158.8 229.4 160.6 228.2 162.7 227.5 165 225 167.5 224.8 170.1 223.8 172.5 221.2 173.8 219.9 171.1 218.1 168.8 214.4 167.5 212.9 168.9 211.2 170 210.5 172.5 210 175 209.8 177.6 208.8 180 208.1 183.8 205 183.8 203.9 181.7 202.5 180 201.5 178.1 200.3 176.5 198.8 175 197 173.2 195 171.9 196.2 152.5 195.8 150.5 195.7 148.5 195.6 146.5 195.2 144.5 195 142.5 194.6 140.5 194.2 138.5 193.4 136.5 193.3 134.4 192.5 132.5 191.9 129.9 190.7 127.5 190 125 188.8 123.1 187.5 121.2 184.5 120 M303.1 119.4 303 121.6 302.5 123.8 303.8 127.5 306.1 128.8 308.8 129.4 311.4 130.7 313.8 132.5 315.7 133.7 317.5 135 319.2 136.7 320.6 138.8 321 141.3 321.9 143.8 325 146.2 325.8 148.8 326.9 151.2 326.9 153.4 327.8 155.4 328.1 157.5 329.4 159.9 330 162.5 330.5 164.9 331.9 166.9 333.1 170 333.8 172.3 335.3 174.1 336.2 176.2 338.1 178.1 340 180 M340 180.2 343.1 178.8 344.1 176.9 345 175 346.2 171.2 347.6 169.8 348.8 168.1 350 165.6 351.9 163.1 354.4 160.6 356.9 158.1 359.4 155 360.4 152.9 361.9 151.2 363 149.6 364.4 148.1 366 146.6 367.5 145 M363.8 151.9 367.5 151.2 369.6 151.4 371.7 151.8 373.8 152.5 374.4 156.2 371.2 158.1 367.5 157.5 364.4 156.2 364.2 154 363.8 151.9 M371.2 158.1 373.3 157.8 375.4 157.8 377.5 158.1 378.1 160.6 375.9 161.9 373.8 163.1 371.2 162.9 368.8 162.5 370.1 160.4 371.2 158.1 M350 165.6 353.8 164.4 355.6 166 356.9 168.1 354.4 170.6 M359.4 155 360.7 156.7 361.2 158.8 364.4 160 366.4 161.6 368.8 162.5 M386.2 182.2 385 184.4 383.8 186 381.9 187.5 379.4 188.8 376.9 190 374.8 191 372.5 191.2 370.1 190.3 367.5 190 365.2 190.3 363.1 191.2 M388 183.5 388.8 184.5 385.6 185.2 382.5 187.8 381.1 189.7 379.4 191.5 378.6 193.6 377.5 195.6 M388.8 184.4 391.9 185 M422.5 178.8 421.9 181.2 421.7 183.8 421.2 186.2 421.2 188.5 420.4 190.6 420.2 192.8 420 195 419.1 196.9 418.9 199 418.2 200.9 418 203 417.5 205 416.7 207.5 415.9 210 415 212.5 414.4 214.6 412.8 216.1 412.1 218.1 411.2 220 410.5 222 409.3 223.7 408.3 225.6 407.5 227.5 406.5 229.3 405.2 231.1 404.6 233.1 403.8 235 402.3 236.4 401.3 238.2 400.3 239.9 398.8 241.2 397.1 242.7 395.6 244.3 394 245.8 392.5 247.5 390.7 248.9 388.6 249.7 387 251.2 M386.2 250.6 387.5 252.5 389.9 253.6 392.5 254.4 393.8 256.9 392.5 260 391.2 263.8 390 267.5 388.9 269.5 387.5 271.2 385.7 272.9 383.8 274.4 381.8 275.8 380 277.5 378.8 281.2 378.1 285 376.9 288.8 378.1 291.9 380 294.4 379.8 296.6 379.4 298.8 378.4 301.2 378.1 303.8 377 306.3 375.6 308.8 373.7 311.1 372.5 313.8 371.2 315.6 370 317.5 368.9 320.1 367.5 322.5 366.2 326.2 365.6 330 365.6 330 364.8 332.1 364.2 334.3 363.1 336.2 362.1 338.3 361.7 340.5 360.6 342.5 360.8 344.6 360 346.7 359.8 348.8 359.8 350.9 358.8 352.9 358.8 355 358.6 357.1 359.1 359.2 359 361.2 358.9 363.3 359 365.4 359.4 367.5 359.5 369.6 359.8 371.7 360 373.8 360.6 376.6 361.2 379.4 361.9 380 M386.2 250.6 390 249.4 393.8 249.4 397.5 250.6 400.6 251.9 403.1 253.8 404.4 257.5 404.2 260 404.4 262.5 404.8 265 405 267.5 404.5 270 403.8 272.5 403 275 402.5 277.5 401.2 281.2 400 283.8 402.5 286.2 403.9 288.1 405 290 406.9 293.1 408.8 296.2 410.6 298.1 413.8 296.2 416.2 296.9 417.5 300 416.9 303.8 413.8 305 411.9 307.5 410.6 311.2 409.4 313 408.8 315 411.2 317.5 412.3 319.3 413.1 321.2 414.4 325 415 327 416.2 328.8 417.5 330 418.7 331.9 420 333.8 421.8 334.8 423.3 336.2 425 337.5 M482.5 208.8 480.9 211.1 480 213.8 478.3 214.8 476.6 215.9 475.2 217.3 473.8 218.8 472.2 220.1 471.1 221.7 470.2 223.6 468.8 225 468 227.5 467.2 230 466.2 232.5 466.8 235 467.5 237.5 467.3 240 466.9 242.5 467.7 245 468.1 247.5 467.5 251.2 466.5 253.3 465 255 464.8 257.5 464.4 260 464.7 262.6 465.6 265 467.5 267.5 467.1 270 466.9 272.5 465 275 463 275.5 461.2 276.5 457.5 276.2 455 275 451.2 276.2 448.8 278.8 447.3 280.2 446.2 281.9 444.6 283.4 442.5 284.4 440.4 285.4 438.8 286.9 436.9 287.8 435 288.8 431.9 291.2 430.6 295 429.9 297.5 429.4 300 428.7 302.5 428.1 305 427.5 307.6 426.2 310 425.1 312.5 423.8 315 423.9 317.6 424.8 320 425.6 322.4 425.6 325 426.1 327.5 426 330 425.8 333.8 425.8 335.9 425.5 338 M488 209.5 488 211.5 487.5 213.5 487.5 215.5 487 217.5 487.7 220 488.5 222.4 488.8 225 489.7 227.8 490.8 230.5 490.8 232.8 491.2 235 491.5 237.6 492.5 240 492.6 242.5 491.9 245 492.2 247.6 493.1 250 492.2 252.4 491.9 255 492.7 257.5 493.8 260 494.5 262.5 495 265 496.2 268.8 497.2 270.6 498.1 272.5 499.3 274.2 500 276.2 500.6 280 499.7 281.9 498.8 283.8 497.5 286.9 M490.6 232.5 489.9 234.9 489.8 237.5 489.8 240 490.2 242.5 490.9 245 491.2 247.5 492.5 251.2 M497.5 286.9 498.1 290 498.8 293.8 498.1 297.5 496.8 299.2 496.2 301.2 493.8 303.8 492 305.1 490.6 306.9 487.5 309.4 M487.5 309.4 485 311.9 482.5 315 480 317.5 478.2 318.5 476.2 319.4 475 321 473.1 321.9 470 323.8 466.2 323.1 464.2 322.5 462.5 321.2 460.7 320.3 458.8 319.4 455.6 320.6 454.4 323.8 455 327.5 456 330 455 333.8 454.1 335.8 453.1 337.8 452.5 340 450.3 341 448.3 342.4 446.2 343.8 444.4 345.2 442.1 346 440 347 437.5 346.6 435 346.2 433.4 344.9 431.4 344 430 342.5 428.4 341.1 426.9 339.6 425.5 338 M497.5 287 501.2 286.2 503.8 286.7 506.2 286.2 508.8 286.2 511.2 286.2 514.4 288.1 515.3 289.9 516.9 291.2 518.5 292.5 519.4 294.4 521.9 293.1 525 291.2 M525 291.2 526.2 287.5 525 283.8 523.8 280 524.7 277.6 525 275 526.2 271.2 M543.8 243 541.8 245.2 540 247.5 538.8 249.4 537.5 251.2 537.5 250 536.2 253.8 535.5 255.7 534.4 257.5 533.2 259.4 531.9 261.2 530.1 262.3 528.8 263.8 526.9 266.9 526.2 270.6 M526.2 270.6 530 270 533.8 268.8 535.6 267.7 537.5 266.9 539.5 266.1 541.2 265 545 263.8 546.2 265.6 544.4 268.8 541.9 271.2 541.2 273.8 543.8 275 547.5 275.6 549.5 276.7 551.2 278.1 553.1 279.4 554.1 277.3 554.4 275 554.8 272.5 555.6 270 557.5 268.1 561.2 269.4 563.7 269.9 566.2 270 568.3 270.2 570.4 270.6 572.5 270.6 576.2 271.5 M525 291.2 528.1 292.5 531.9 293.1 535 291.9 538.1 289.4 539.6 288 541.2 286.9 545 285.6 548.1 286.9 547.5 289.4 545 290.6 544.4 294.4 543.8 297.5 545.6 300 546.9 303.8 548.8 303.1 550.6 300.6 553.1 298.1 554.4 296.5 556.2 295.6 558.1 294.5 560 293.8 563.8 292.5 565.5 291 567.5 290 570.6 287.5 573.8 286.9 577.5 288.1 M490 309.4 491.9 311.2 493.3 313 494.4 315 495.3 317.4 495.6 320 497.5 322.5 500 321.2 500.5 319.2 501.9 317.5 504.4 315 506.9 313.1 509.4 310 512.5 308.1 515 306.9 517.5 308.8 519.4 309.7 521.2 310.6 524.4 311.9 527.5 312.5 528.8 314.2 529.4 316.2 530.6 319.4 531.9 321.2 M531.9 320 533.8 317.5 536.2 315 538.1 311.9 540 314.4 542.5 316.2 544.6 317.5 546.2 319.4 549.4 320.6 552.5 319.4 555.6 318.1 558.1 315 560.6 313.1 563.8 312.2 567.5 311.9 571.2 311.2 574.4 311.9 M531.9 321.2 533.8 323.8 535.7 324.5 537.5 325.6 539.6 326.6 541.2 328.1 543 329.6 545 330.6 547.1 331.9 548.8 333.8 550.9 335 552.5 336.9 554.4 338.3 556.2 339.8 M533.8 323.8 535 327.5 536.2 331.2 536.9 335 535.6 338.8 535 342.5 532.5 345 531.2 347.5 531.9 350 533.8 352.5 535.7 353.9 537.1 355.8 538.8 357.5 542.5 358.8 M361.9 380 363.3 377.6 364.4 375 366.9 373.8 366.6 376 365.6 378.1 366.9 380.6 369 382 371.2 383.1 373.4 384.4 375 386.2 378.1 388.1 378.8 385.3 379.4 382.5 381.9 380.6 383.8 381.9 385.6 380.6 386.8 382.2 388.1 383.8 388.9 385.9 389.4 388.1 391.2 388.8 393.8 386.9 395.6 388.1 398.8 388.8 399.7 390.6 401.2 391.9 402.2 389.1 402.5 386.2 405 388.1 408.8 387.5 410.4 385.9 412.5 385 414.3 384.2 416.2 383.5 418.7 383.1 421.2 383.1 M361.9 380 361.1 382.5 360.6 385 360.1 387.7 358.8 390 358.1 392.1 357.4 394.1 356.9 396.2 356.3 398.3 355.7 400.4 355.6 402.5 355 404.5 354.9 406.6 354.8 408.8 354 410.8 353.8 413 353.1 415 351 417 348.8 418.8 346.9 421.1 345.6 423.8 345.1 425.9 344.2 427.9 343.8 430 341.7 430.9 340 432.5 338.3 434.1 336.6 435.8 335 437.5 333.6 439.1 332.6 440.9 331.2 442.5 330.4 444.6 329.4 446.6 328.8 448.8 328 450.9 327.3 453 326.2 455 325.3 457.4 324.9 460 324.5 462.5 324.5 464.5 324.3 466.5 324.3 468.5 323.8 470.5 M426.2 338.1 424.5 339.9 422.5 341.2 421.5 343.3 420 345 419.1 346.9 418.1 348.8 417.3 351.3 416.2 353.8 417.5 356.9 420 358.8 422.5 360 420 363.1 421.9 365 419.4 368.1 418.9 370.3 418.8 372.5 421.2 375 421.8 377.5 421.9 380 421.2 383.1 421.9 386.2 422.5 390 421.6 391.9 420.6 393.8 420 396.2 420 398.8 420.7 401 421.9 403.1 422.8 405.2 424.4 406.9 424.7 409.1 425 411.2 424.2 413.7 424 416.2 423.8 418.3 423.6 420.4 423.1 422.5 M355 495 356.3 492.5 357.5 490 358.5 488.1 359.8 486.5 361.2 485 363.5 483.1 366.2 482 368.3 481.5 370.3 480.6 372.5 480.5 375 479.8 377.5 478.8 379.6 478 381.5 476.7 383.8 476.2 385.8 475.9 387.9 475.5 390 475.5 392.1 475.8 394.1 476.7 396.2 477 398.7 475.9 401.2 475 403.1 473.1 405 471.2 405.8 469.4 406.6 467.5 407 465.5 406.5 463.5 405.3 461.8 404.5 460 405.6 458 406.1 455.6 407.5 453.8 406.5 451.8 405.8 449.7 405.5 447.5 404.7 445.5 404.6 443.3 403.8 441.2 405.3 438.9 406.2 436.2 408.2 434.4 410 432.5 410 430.3 410.8 428.3 411.2 426.2 411.3 424.1 411.6 422.1 412 420 413.8 418.8 416.2 417.5 416.5 415.3 416.9 413.1 419.4 413.8 420.5 415.5 421.2 417.5 421.8 420.1 423.1 422.5 M423.1 422.5 424.8 420.7 426.2 418.8 428 417.3 430 416.2 432 415.2 433.8 413.8 435.7 412.6 437.5 411.2 439.6 410 441.2 408.1 442.9 406.6 445 405.6 448.8 405 450.8 406.1 453.1 406.2 453.5 408.4 453.8 410.6 454.8 412.3 456.2 413.8 458.8 415 460.3 413.8 461.9 412.5 465 411.9 468.1 414.4 471.2 416.2 472.8 417.5 474.4 418.8 477.5 420 481.2 419.4 483.1 421 485 422.5 486.6 424.4 488.1 426.2 489.4 430 490.5 431.2 492.8 431.4 495.2 431.3 497.5 431.2 499.6 431.4 501.7 431.8 503.8 432.5 505.5 434.5 507.5 436.2 507.3 438.8 508 441.2 505.7 442.9 503.8 445 502.6 446.8 501.6 448.6 500 450 499.4 452 499.4 454 499 456 498.8 458 500.5 460.2 502 462.5 503.5 464.2 504.5 466.2 506 467.9 507.9 469.1 509.5 470.5 510.5 472.3 512 473.8 M504.5 466.2 502.6 466.7 500.6 467.1 498.8 468 496.2 468.1 493.7 468.8 491.2 469.5 490.5 471.5 489.3 473.3 488 475 486.7 477.6 486.2 480.5 488.2 482.8 489.5 485.5 490.5 487.3 492 488.7 493 490.5 493.2 493 493.8 495.5 492.1 497.8 491.2 500.5 489.7 503.1 488 505.5 486.5 507.1 485.5 509 482 510 481.6 512.5 481.2 515 481.2 517.5 481.5 519.8 482.5 521.9 482.5 524.2 485 525.1 487.5 525.5 490.2 526 493 526.2 M480.5 518.8 479.3 520.5 479 522.6 478 524.5 477 526.2 476.3 528.8 475.5 531.2 475.6 530 475.5 532.2 475 534.4 471.9 536.2 469.7 537.1 467.5 538.1 465.8 539.3 463.8 540 460 539.4 456.2 540.6 452.5 541.9 448.8 543.1 445 544.4 443 544.9 441.2 545.9 437.5 546.9 435.8 548.1 433.8 548.8 430 550 427.5 549.4 426.9 552.5 423.8 553.8 420 554.4 418.1 552.5 416.9 548.8 415.7 547 415 545 413.8 541.2 414.4 537.5 415.6 533.8 416.9 530 416.2 530 414.5 528.6 412.5 527.5 410.9 525.2 410 522.5 409 520.1 408.7 517.5 408 515 407.5 512.5 407 510 406.2 507.5 403.8 504.5 401.7 504.8 399.6 505 397.5 505 395.1 505.8 392.4 505.4 390 506.2 387.9 506.7 385.7 506.7 383.8 507.5 381.2 510.5 379.6 508.9 379 506.6 377.5 505 374.9 504.6 372.5 503.3 370 502.5 367.5 502 365.1 501.3 362.5 501.2 360.5 500.6 358.3 500.4 356.2 500 M441.2 545.9 442.5 548.8 445.6 549.8 448.8 550 448.1 553.1 445 554.4 442.5 555.6 440.6 558.1 440 560.6 440.2 562.8 M265 468.8 266.2 467 268.2 465.4 270 463.8 271.7 461.7 273.8 460 276.4 459.4 278.8 458 280.8 457 282.5 455.5 284.5 456.6 286.2 458 288.7 459.1 291.2 460 293.8 461.1 296.2 462.5 298.4 462.2 300.4 463.2 302.5 463 304.6 461.7 306.2 460 308 462 310 463.8 313.8 462.5 315.5 459.5 315.6 461.5 315.5 463.5 316.1 465.5 316.2 467.5 318.1 468.6 320 469.5 323.8 470.5 325.8 472.6 327.5 475 327.8 477.6 328.8 480 330.5 481.2 332.1 482.4 333.8 483.8 335.7 485.3 338 486.1 340 487.5 342.1 488.4 344.2 489.4 346.2 490.5 348.8 491.6 351.2 493 353.1 493.7 355 494.5 M355 495 355.4 497.6 356.2 500 355.7 502.2 354.4 504.1 353.8 506.2 352.4 507.8 351.5 509.8 350 511.2 348.5 513.7 347 516.2 346.5 518.5 345.1 520.3 344.5 522.5 343.5 524.5 343 526.7 342 528.8 341.1 530.9 339.6 532.8 338.8 535 337.3 536.5 336.6 538.6 335 540 333.4 541.7 331.8 543.5 330 545 328.4 547.5 326.2 549.5 324.1 550.7 322.5 552.5 320.9 553.9 320 555.9 318.8 557.5 317.7 560.1 316.2 562.5 314.8 564.9 313.8 567.5 312.2 569.9 311.2 572.5 M326.2 549.5 328.4 549.6 330.4 549.3 332.5 548.8 335 549.2 337.5 549.2 340 549.5 342.5 550.2 345 549.8 347.5 550.5 350 551.2 352.4 551.9 355 552 357.5 552.5 360 553.3 362.5 553.8 364.7 554.3 366.8 555 368.8 556.2 370.3 558.8 372 561.2 372.3 563.4 373.4 565.4 373.8 567.5 374.4 569.6 375.5 571.6 376.2 573.8 376.7 575.8 377.4 577.9 377.5 580 380 583.1 382.5 584.1 385 585 388.8 586.2 389.4 590 392.5 590.6 393.8 593.8 391.9 596.9 390.6 599.4 M385.6 598.1 388.8 599 390 597.2 391.9 595.9 M385 610 386.2 613.8 388.1 612.8 M461.9 551.9 463.8 551 464.8 553.1 462.5 554.4 461.9 551.9 M441.2 555 445 554.4 448.1 555.6 451.9 555 455 556.5 M440.6 558.1 443.8 558.5 446.9 556.9 M318.8 613 320.8 613.7 323 613.8 325 614.5 327.4 615.4 330 615.6 332.5 616.2 335 616.7 337.5 617.2 340 617.5 342.5 617.4 345 617.5 347.5 618 350 616.2 351 613.6 352.5 611.2 355 611 357.5 611.3 360 611.2 362.5 610.6 365 610.2 367.5 610 370 609.5 372.5 609.3 375 608.8 377.5 608.5 380 607.7 382.5 607.5 384.7 608.3 387 608.8 M316.2 627.5 318.3 627.4 320.4 627.3 322.5 627 325.1 627.2 327.5 628 329.9 629.4 332.5 630 335 630.7 337.5 631.2 340 632.5 342.5 633.8 344 635.2 346 636 347.5 637.5 349.3 638.6 350.7 640.2 352.5 641.2 354.3 643.2 356.2 645 358.1 646.9 360 648.8 M360 648.8 362.5 649.5 365.1 649.6 367.5 650.6 369.8 651 371.9 651.9 372.5 653.8 370.6 656.2 369.4 660 368.1 663.8 369.8 665 M445.4 200 444.5 202.2 444.2 204.5 443.5 206.6 443.1 208.8 442.1 211 441.6 213.4 440.6 215.6 442.2 213.6 443.1 211.2 444.6 209.9 445.6 208.1 M390.5 627.5 391.2 629.4 392.5 631 392.4 633.5 393 636 392.7 638.6 391.5 641" fill="none" stroke="#000" stroke-width="1.6" stroke-linejoin="round" stroke-linecap="round"/>
<path d="M350.6 677.5 351.2 681.2 353.1 683.1 355 683.8 357.5 682.5 360 680.6 361.2 683.1 360 686.2 358.1 689.4 355.6 692.5 353.8 696.2 351.2 700 348.1 703.1 345 706.2 341.9 709.4 338.8 712.5 337.5 711.2 338.1 708.8 340.6 706.2 342.5 703.1 345 700 347.5 696.9 348.8 693.8 350 690 350.6 686.2 351 682.5 350.6 677.5Z M445.9 208.1 446.5 203.1 448.8 201 451 200.6 449.8 203.8 447.8 206.5 445.9 208.1Z" fill="none" stroke="#000" stroke-width="1.3" stroke-linejoin="round"/>
<path d="M397.5 168.8 398.7 169.1 399.8 170.2 401.2 170 402.5 170.2 403.6 171.1 405 171.2 406.5 171.2 407.7 171.8 408.8 172.8 409.8 173.7 411 174.4 412.5 174.1 413.7 175 415 175.2 416.6 175.1 417.2 177.1 419.1 176.2 419.8 178.1 421.2 178.1 422.8 178.2 423.9 179.1 424.8 180.4 426.2 180.6 426.9 182 428.2 182.4 429.8 182.4 430.6 183.5 431.6 185.2 433.1 186.2 M435.6 182.8 436.6 181.5 438.1 181.2 439.4 182.2 439.2 184.1 440.6 185 441.3 186.3 442.4 187.4 442.5 189 442.5 190.8 444.4 191.9 444.4 193.8 444.4 195.2 445.8 196.2 445.6 197.8 444.9 199.4 445.2 201.2 444.7 202.4 444.9 203.9 444 205" fill="none" stroke="#000" stroke-width="2.3" stroke-linejoin="round" stroke-linecap="round"/>
<rect x="393.0" y="426.8" width="12.5" height="10" fill="none" stroke="#000" stroke-width="1.1"/>
<ellipse cx="525.6" cy="381.0" rx="1.1" ry="2.6" fill="#fff" stroke="#000" stroke-width="1" transform="rotate(8 525.6 381.0)"/>
<rect x="244" y="74" width="1" height="1" fill="#ff6000"/><rect x="312" y="78" width="1" height="1" fill="#ff6000"/><rect x="380" y="82" width="1" height="1" fill="#ff6000"/><rect x="446" y="86" width="1" height="1" fill="#ffa000"/><rect x="515" y="91" width="1" height="1" fill="#ffa000"/><rect x="581" y="95" width="1" height="1" fill="#ffe878"/><rect x="521" y="151" width="1" height="1" fill="#ffa000"/><rect x="545" y="150" width="1" height="1" fill="#ffa000"/><circle cx="524.5" cy="470.5" r="0.9" fill="#000"/>
</g>
<defs><radialGradient id="ball" cx="0.62" cy="0.32" r="0.75"><stop offset="0" stop-color="#ff8a78"/><stop offset="0.25" stop-color="#d81a14"/><stop offset="1" stop-color="#7c0000"/></radialGradient></defs><g font-size="23.4" fill="#000" stroke="#fff" stroke-width="0.3"><text x="33.5" y="23.8" textLength="126.0" lengthAdjust="spacingAndGlyphs">Correlacao</text><text x="175.5" y="23.8" textLength="25.5" lengthAdjust="spacingAndGlyphs">de</text><text x="217" y="23.8" textLength="105" lengthAdjust="spacingAndGlyphs">Anomalia</text><text x="337.3" y="23.8" textLength="25.5" lengthAdjust="spacingAndGlyphs">de</text><text x="378.3" y="23.8" textLength="148.7" lengthAdjust="spacingAndGlyphs">Temperatura</text><text x="541.5" y="23.8" textLength="46.0" lengthAdjust="spacingAndGlyphs">FMA</text></g><g font-size="23.4" fill="#000" stroke="#fff" stroke-width="0.3"><text x="200.3" y="53" textLength="110.7" lengthAdjust="spacingAndGlyphs">CPTEC1.2</text><text x="327" y="53" textLength="16.5" lengthAdjust="spacingAndGlyphs">−</text><text x="359" y="53" textLength="47" lengthAdjust="spacingAndGlyphs">BAM</text></g><g font-size="23.4" fill="#000" stroke="#fff" stroke-width="0.3"><text x="628" y="23.8" textLength="99" lengthAdjust="spacingAndGlyphs">Previsao</text><text x="742.3" y="23.8" textLength="25.5" lengthAdjust="spacingAndGlyphs">de</text><text x="783.2" y="23.8" textLength="106.3" lengthAdjust="spacingAndGlyphs">Anomalia</text><text x="904.3" y="23.8" textLength="25.5" lengthAdjust="spacingAndGlyphs">de</text><text x="945.8" y="23.8" textLength="148.7" lengthAdjust="spacingAndGlyphs">Temperatura</text><text x="1109" y="23.8" textLength="123" lengthAdjust="spacingAndGlyphs">FMA/2024</text></g><g font-size="23.4" fill="#000" stroke="#fff" stroke-width="0.3"><text x="820.3" y="53" textLength="110.7" lengthAdjust="spacingAndGlyphs">CPTEC1.2</text><text x="947" y="53" textLength="16.5" lengthAdjust="spacingAndGlyphs">−</text><text x="979" y="53" textLength="47" lengthAdjust="spacingAndGlyphs">BAM</text></g><g font-size="10.8" fill="#000" font-weight="bold"><text x="170.5" y="757.6" textLength="31.8" lengthAdjust="spacingAndGlyphs">Fonte</text><text x="208.3" y="757.6" textLength="64.3" lengthAdjust="spacingAndGlyphs">observacao</text><text x="279.5" y="757.6" textLength="50.5" lengthAdjust="spacingAndGlyphs">utilizada:</text><text x="336.3" y="757.6" textLength="28.5" lengthAdjust="spacingAndGlyphs">ERA5</text><text x="371.3" y="757.6" textLength="78.0" lengthAdjust="spacingAndGlyphs">(1981−2010)</text></g><g transform="translate(0,0)" stroke="#000" stroke-width="1.3" stroke-linejoin="miter"><path d="M127.5 762.5 L87 768.75 L127.5 775.0 Z" fill="#1e6eeb"/><rect x="127.5" y="762.5" width="40.5" height="12.5" fill="#3c96f5"/><rect x="168.0" y="762.5" width="40.5" height="12.5" fill="#78b9fa"/><rect x="208.5" y="762.5" width="40.5" height="12.5" fill="#96d2fa"/><rect x="249.0" y="762.5" width="40.5" height="12.5" fill="#b4f0fa"/><rect x="289.5" y="762.5" width="40.5" height="12.5" fill="#ffffff"/><rect x="330.0" y="762.5" width="40.5" height="12.5" fill="#ffe878"/><rect x="370.5" y="762.5" width="40.5" height="12.5" fill="#ffa000"/><rect x="411.0" y="762.5" width="40.5" height="12.5" fill="#ff6000"/><rect x="451.5" y="762.5" width="40.5" height="12.5" fill="#e11400"/><path d="M492.0 762.5 L532.5 768.75 L492.0 775.0 Z" fill="#a50000"/></g><g transform="translate(0,0)" font-size="12.6" text-anchor="middle" fill="#000" stroke="#000" stroke-width="0.35"><text x="127.5" y="787.6" textLength="29.0" lengthAdjust="spacingAndGlyphs">−0.8</text><text x="168.0" y="787.6" textLength="29.0" lengthAdjust="spacingAndGlyphs">−0.6</text><text x="208.5" y="787.6" textLength="29.0" lengthAdjust="spacingAndGlyphs">−0.4</text><text x="249.0" y="787.6" textLength="29.0" lengthAdjust="spacingAndGlyphs">−0.3</text><text x="289.5" y="787.6" textLength="29.0" lengthAdjust="spacingAndGlyphs">−0.2</text><text x="330.0" y="787.6" textLength="18.9" lengthAdjust="spacingAndGlyphs">0.2</text><text x="370.5" y="787.6" textLength="18.9" lengthAdjust="spacingAndGlyphs">0.3</text><text x="411.0" y="787.6" textLength="18.9" lengthAdjust="spacingAndGlyphs">0.4</text><text x="451.5" y="787.6" textLength="18.9" lengthAdjust="spacingAndGlyphs">0.6</text><text x="492.0" y="787.6" textLength="18.9" lengthAdjust="spacingAndGlyphs">0.8</text></g><g transform="translate(620,0)" stroke="#000" stroke-width="1.3" stroke-linejoin="miter"><path d="M127.5 762.5 L87 768.75 L127.5 775.0 Z" fill="#1e6eeb"/><rect x="127.5" y="762.5" width="40.5" height="12.5" fill="#3c96f5"/><rect x="168.0" y="762.5" width="40.5" height="12.5" fill="#78b9fa"/><rect x="208.5" y="762.5" width="40.5" height="12.5" fill="#96d2fa"/><rect x="249.0" y="762.5" width="40.5" height="12.5" fill="#b4f0fa"/><rect x="289.5" y="762.5" width="40.5" height="12.5" fill="#ffffff"/><rect x="330.0" y="762.5" width="40.5" height="12.5" fill="#ffe878"/><rect x="370.5" y="762.5" width="40.5" height="12.5" fill="#ffa000"/><rect x="411.0" y="762.5" width="40.5" height="12.5" fill="#ff6000"/><rect x="451.5" y="762.5" width="40.5" height="12.5" fill="#e11400"/><path d="M492.0 762.5 L532.5 768.75 L492.0 775.0 Z" fill="#a50000"/></g><g transform="translate(620,0)" font-size="12.6" text-anchor="middle" fill="#000" stroke="#000" stroke-width="0.35"><text x="127.5" y="787.6" textLength="17.0" lengthAdjust="spacingAndGlyphs">−3</text><text x="168.0" y="787.6" textLength="17.0" lengthAdjust="spacingAndGlyphs">−2</text><text x="208.5" y="787.6" textLength="15.5" lengthAdjust="spacingAndGlyphs">−1</text><text x="249.0" y="787.6" textLength="29.0" lengthAdjust="spacingAndGlyphs">−0.5</text><text x="289.5" y="787.6" textLength="36.0" lengthAdjust="spacingAndGlyphs">−0.25</text><text x="330.0" y="787.6" textLength="26.8" lengthAdjust="spacingAndGlyphs">0.25</text><text x="370.5" y="787.6" textLength="18.9" lengthAdjust="spacingAndGlyphs">0.5</text><text x="411.0" y="787.6">1</text><text x="451.5" y="787.6">2</text><text x="492.0" y="787.6">3</text></g><g transform="translate(0,0)"><rect x="87.6" y="683.6" width="34.6" height="34.6" fill="#fff2a6"/><ellipse cx="112.6" cy="693.4" rx="5" ry="4.6" fill="#8a8a3c" opacity="0.75"/><circle cx="114.2" cy="692" r="5.3" fill="url(#ball)"/><path d="M90.8 680 V752 M55.3 715.6 H126.6" stroke="#000" stroke-width="1.5" fill="none"/><text x="92.3" y="728.6" font-size="10.6" font-weight="bold" fill="#0000ff" stroke="#0000ff" stroke-width="0.3" textLength="54.5" lengthAdjust="spacingAndGlyphs">FUNCEME</text></g><g transform="translate(0,0)"><rect x="181" y="675.9" width="68.1" height="62" fill="#2e3192"/><path d="M184.3 701.7 C183.4 696.4 189.1 692.5 193.9 694.3 C195.2 690.3 202.2 689.5 205.2 692.9 C207.0 689.0 215.3 689.0 217.4 693.8 C220.5 692.9 223.1 695.1 223.8 698.6 C229.2 699.1 234.0 701.7 236.2 705.6 C241.4 706.9 242.8 714.3 238.8 717.8 C237.1 722.2 229.7 722.6 226.6 719.8 C224.0 722.6 217.0 721.9 214.4 718.9 C210.9 721.3 203.9 720.7 201.3 717.5 C196.9 719.6 190.0 717.5 189.1 713.2 C185.4 711.4 183.4 706.9 184.3 701.7 Z" fill="#35b0e6" transform="translate(-0.3,0.9)"/><path d="M184.3 701.7 C183.4 696.4 189.1 692.5 193.9 694.3 C195.2 690.3 202.2 689.5 205.2 692.9 C207.0 689.0 215.3 689.0 217.4 693.8 C220.5 692.9 223.1 695.1 223.8 698.6 C229.2 699.1 234.0 701.7 236.2 705.6 C241.4 706.9 242.8 714.3 238.8 717.8 C237.1 722.2 229.7 722.6 226.6 719.8 C224.0 722.6 217.0 721.9 214.4 718.9 C210.9 721.3 203.9 720.7 201.3 717.5 C196.9 719.6 190.0 717.5 189.1 713.2 C185.4 711.4 183.4 706.9 184.3 701.7 Z" fill="#fff"/><g transform="translate(228.8,696.9)" fill="#ffd900"><path d="M-1.7 -5.5 L0 -16.5 L1.7 -5.5Z" transform="rotate(-4.0)"/><path d="M-1.7 -5.5 L0 -12 L1.7 -5.5Z" transform="rotate(18.5)"/><path d="M-1.7 -5.5 L0 -15.5 L1.7 -5.5Z" transform="rotate(41.0)"/><path d="M-1.7 -5.5 L0 -11.5 L1.7 -5.5Z" transform="rotate(63.5)"/><path d="M-1.7 -5.5 L0 -15 L1.7 -5.5Z" transform="rotate(86.0)"/><path d="M-1.7 -5.5 L0 -12 L1.7 -5.5Z" transform="rotate(108.5)"/><path d="M-1.7 -5.5 L0 -14.5 L1.7 -5.5Z" transform="rotate(131.0)"/><path d="M-1.7 -5.5 L0 -11 L1.7 -5.5Z" transform="rotate(153.5)"/><path d="M-1.7 -5.5 L0 -13 L1.7 -5.5Z" transform="rotate(176.0)"/><path d="M-1.7 -5.5 L0 -11 L1.7 -5.5Z" transform="rotate(198.5)"/><path d="M-1.7 -5.5 L0 -13 L1.7 -5.5Z" transform="rotate(221.0)"/><path d="M-1.7 -5.5 L0 -11 L1.7 -5.5Z" transform="rotate(243.5)"/><path d="M-1.7 -5.5 L0 -14.5 L1.7 -5.5Z" transform="rotate(266.0)"/><path d="M-1.7 -5.5 L0 -11.5 L1.7 -5.5Z" transform="rotate(288.5)"/><path d="M-1.7 -5.5 L0 -15.5 L1.7 -5.5Z" transform="rotate(311.0)"/><path d="M-1.7 -5.5 L0 -12 L1.7 -5.5Z" transform="rotate(333.5)"/><circle r="6.7" fill="#ffd400"/></g><ellipse cx="226.2" cy="707.3" rx="6.2" ry="5.2" fill="#fff" transform="rotate(28 226.2 707.3)"/><g fill="none" stroke="#35b0e6" stroke-width="1.1" stroke-linecap="round"><path d="M202.2 693.8 C197.8 694.9 193.9 698.2 193.5 702.5"/><path d="M195.6 705.6 C196.5 708.6 200.0 710.4 203.9 709.5"/><path d="M217.9 700.8 C221.4 701.7 223.6 704.3 223.6 706.9"/><path d="M217.0 711.7 C219.6 713.9 223.1 713.9 225.3 711.7"/><path d="M227.0 706.5 C229.2 706.2 231.0 707.3 231.8 709.1"/></g><text x="191.6" y="735.3" font-size="15.2" font-weight="bold" fill="#fff" textLength="48.3" lengthAdjust="spacingAndGlyphs">INMET</text></g><g transform="translate(0,0)"><path fill="#0072bc" d="M476.8 685.2 L487.9 696.1 L484.2 696.1 L484.2 696.1 C483.7 711.9 472.8 728.8 455.8 734.8 C439.9 739.8 418.9 729.8 412.8 702.9 C417.9 716.9 429.9 726.8 443.9 727.8 C455.8 728.3 468.8 716.9 469.8 696.1 C468.8 696.1 466.8 696.1 465.3 696.1 C469.8 691.9 473.8 687.9 476.8 685.2 Z"/><path fill="none" stroke="#0072bc" stroke-width="1.35" stroke-linejoin="miter" d="M413.2 703.4 C412.0 689.9 424.9 679.5 436.9 679.5 C448.9 679.5 457.3 688.9 456.8 699.7 L460.6 699.7 L448.5 709.7 L438.7 699.7 L442.7 699.7 C442.4 693.9 435.9 690.7 429.9 691.1 C422.9 691.7 416.5 697.9 414.2 704.9"/><circle cx="448.5" cy="718" r="7.8" fill="#f39200"/><text x="417.6" y="713" font-size="10.6" font-weight="bold" font-style="italic" fill="#000" stroke="#000" stroke-width="0.35" textLength="23.4" lengthAdjust="spacingAndGlyphs">INPE</text><rect x="412.2" y="739" width="76" height="6" fill="#0072bc"/><text x="415" y="744" font-size="4.3" font-weight="bold" fill="#fff" textLength="70.5" lengthAdjust="spacingAndGlyphs">UNIDADE DE PESQUISA DO MCTI</text></g><g transform="translate(620,0)"><rect x="87.6" y="683.6" width="34.6" height="34.6" fill="#fff2a6"/><ellipse cx="112.6" cy="693.4" rx="5" ry="4.6" fill="#8a8a3c" opacity="0.75"/><circle cx="114.2" cy="692" r="5.3" fill="url(#ball)"/><path d="M90.8 680 V752 M55.3 715.6 H126.6" stroke="#000" stroke-width="1.5" fill="none"/><text x="92.3" y="728.6" font-size="10.6" font-weight="bold" fill="#0000ff" stroke="#0000ff" stroke-width="0.3" textLength="54.5" lengthAdjust="spacingAndGlyphs">FUNCEME</text></g><g transform="translate(620,0)"><rect x="181" y="675.9" width="68.1" height="62" fill="#2e3192"/><path d="M184.3 701.7 C183.4 696.4 189.1 692.5 193.9 694.3 C195.2 690.3 202.2 689.5 205.2 692.9 C207.0 689.0 215.3 689.0 217.4 693.8 C220.5 692.9 223.1 695.1 223.8 698.6 C229.2 699.1 234.0 701.7 236.2 705.6 C241.4 706.9 242.8 714.3 238.8 717.8 C237.1 722.2 229.7 722.6 226.6 719.8 C224.0 722.6 217.0 721.9 214.4 718.9 C210.9 721.3 203.9 720.7 201.3 717.5 C196.9 719.6 190.0 717.5 189.1 713.2 C185.4 711.4 183.4 706.9 184.3 701.7 Z" fill="#35b0e6" transform="translate(-0.3,0.9)"/><path d="M184.3 701.7 C183.4 696.4 189.1 692.5 193.9 694.3 C195.2 690.3 202.2 689.5 205.2 692.9 C207.0 689.0 215.3 689.0 217.4 693.8 C220.5 692.9 223.1 695.1 223.8 698.6 C229.2 699.1 234.0 701.7 236.2 705.6 C241.4 706.9 242.8 714.3 238.8 717.8 C237.1 722.2 229.7 722.6 226.6 719.8 C224.0 722.6 217.0 721.9 214.4 718.9 C210.9 721.3 203.9 720.7 201.3 717.5 C196.9 719.6 190.0 717.5 189.1 713.2 C185.4 711.4 183.4 706.9 184.3 701.7 Z" fill="#fff"/><g transform="translate(228.8,696.9)" fill="#ffd900"><path d="M-1.7 -5.5 L0 -16.5 L1.7 -5.5Z" transform="rotate(-4.0)"/><path d="M-1.7 -5.5 L0 -12 L1.7 -5.5Z" transform="rotate(18.5)"/><path d="M-1.7 -5.5 L0 -15.5 L1.7 -5.5Z" transform="rotate(41.0)"/><path d="M-1.7 -5.5 L0 -11.5 L1.7 -5.5Z" transform="rotate(63.5)"/><path d="M-1.7 -5.5 L0 -15 L1.7 -5.5Z" transform="rotate(86.0)"/><path d="M-1.7 -5.5 L0 -12 L1.7 -5.5Z" transform="rotate(108.5)"/><path d="M-1.7 -5.5 L0 -14.5 L1.7 -5.5Z" transform="rotate(131.0)"/><path d="M-1.7 -5.5 L0 -11 L1.7 -5.5Z" transform="rotate(153.5)"/><path d="M-1.7 -5.5 L0 -13 L1.7 -5.5Z" transform="rotate(176.0)"/><path d="M-1.7 -5.5 L0 -11 L1.7 -5.5Z" transform="rotate(198.5)"/><path d="M-1.7 -5.5 L0 -13 L1.7 -5.5Z" transform="rotate(221.0)"/><path d="M-1.7 -5.5 L0 -11 L1.7 -5.5Z" transform="rotate(243.5)"/><path d="M-1.7 -5.5 L0 -14.5 L1.7 -5.5Z" transform="rotate(266.0)"/><path d="M-1.7 -5.5 L0 -11.5 L1.7 -5.5Z" transform="rotate(288.5)"/><path d="M-1.7 -5.5 L0 -15.5 L1.7 -5.5Z" transform="rotate(311.0)"/><path d="M-1.7 -5.5 L0 -12 L1.7 -5.5Z" transform="rotate(333.5)"/><circle r="6.7" fill="#ffd400"/></g><ellipse cx="226.2" cy="707.3" rx="6.2" ry="5.2" fill="#fff" transform="rotate(28 226.2 707.3)"/><g fill="none" stroke="#35b0e6" stroke-width="1.1" stroke-linecap="round"><path d="M202.2 693.8 C197.8 694.9 193.9 698.2 193.5 702.5"/><path d="M195.6 705.6 C196.5 708.6 200.0 710.4 203.9 709.5"/><path d="M217.9 700.8 C221.4 701.7 223.6 704.3 223.6 706.9"/><path d="M217.0 711.7 C219.6 713.9 223.1 713.9 225.3 711.7"/><path d="M227.0 706.5 C229.2 706.2 231.0 707.3 231.8 709.1"/></g><text x="191.6" y="735.3" font-size="15.2" font-weight="bold" fill="#fff" textLength="48.3" lengthAdjust="spacingAndGlyphs">INMET</text></g><g transform="translate(620,0)"><path fill="#0072bc" d="M476.8 685.2 L487.9 696.1 L484.2 696.1 L484.2 696.1 C483.7 711.9 472.8 728.8 455.8 734.8 C439.9 739.8 418.9 729.8 412.8 702.9 C417.9 716.9 429.9 726.8 443.9 727.8 C455.8 728.3 468.8 716.9 469.8 696.1 C468.8 696.1 466.8 696.1 465.3 696.1 C469.8 691.9 473.8 687.9 476.8 685.2 Z"/><path fill="none" stroke="#0072bc" stroke-width="1.35" stroke-linejoin="miter" d="M413.2 703.4 C412.0 689.9 424.9 679.5 436.9 679.5 C448.9 679.5 457.3 688.9 456.8 699.7 L460.6 699.7 L448.5 709.7 L438.7 699.7 L442.7 699.7 C442.4 693.9 435.9 690.7 429.9 691.1 C422.9 691.7 416.5 697.9 414.2 704.9"/><circle cx="448.5" cy="718" r="7.8" fill="#f39200"/><text x="417.6" y="713" font-size="10.6" font-weight="bold" font-style="italic" fill="#000" stroke="#000" stroke-width="0.35" textLength="23.4" lengthAdjust="spacingAndGlyphs">INPE</text><rect x="412.2" y="739" width="76" height="6" fill="#0072bc"/><text x="415" y="744" font-size="4.3" font-weight="bold" fill="#fff" textLength="70.5" lengthAdjust="spacingAndGlyphs">UNIDADE DE PESQUISA DO MCTI</text></g>
</svg>
</body></html>
